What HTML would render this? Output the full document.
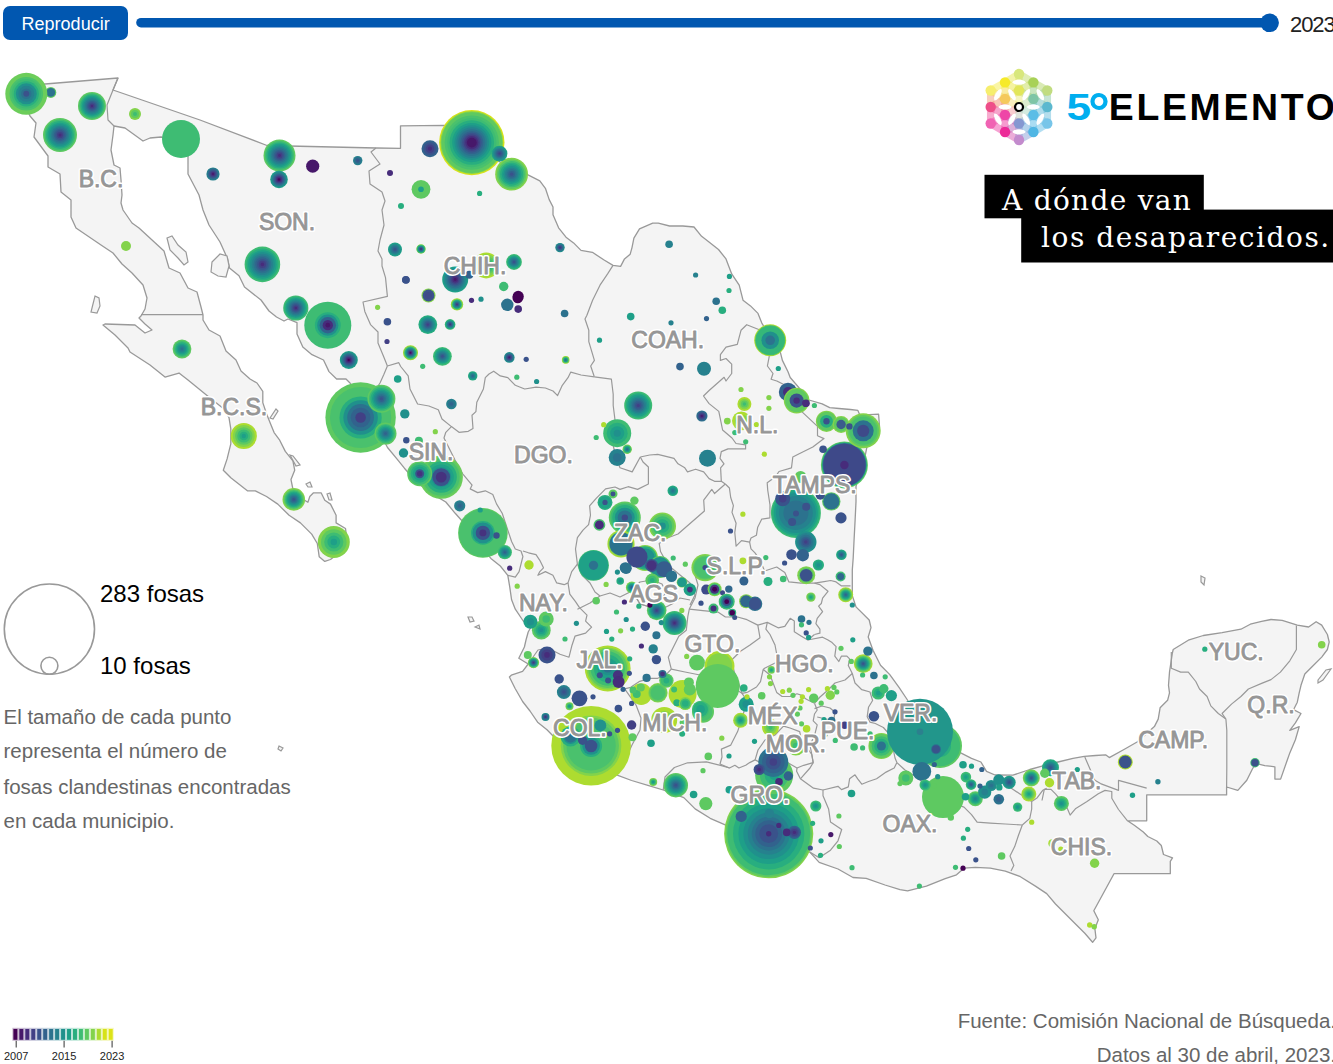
<!DOCTYPE html>
<html><head><meta charset="utf-8"><style>
html,body{margin:0;padding:0;background:#fff;}
body{width:1333px;height:1064px;position:relative;overflow:hidden;font-family:"Liberation Sans",Arial,sans-serif;}
svg{position:absolute;left:0;top:0;}
.lb{font-family:"Liberation Sans",sans-serif;font-size:23px;fill:#fff;text-anchor:middle;stroke:#fff;stroke-width:4px;stroke-linejoin:round;}
.lf{font-family:"Liberation Sans",sans-serif;font-size:23px;fill:#969696;text-anchor:middle;stroke:#969696;stroke-width:0.9px;stroke-linejoin:round;}
</style></head><body>
<svg width="1333" height="1064" viewBox="0 0 1333 1064">
<line x1="141" y1="22.7" x2="1269" y2="22.7" stroke="#0157b0" stroke-width="9.6" stroke-linecap="round"/>
<circle cx="1269.6" cy="22.8" r="9.3" fill="#0157b0"/>
<polygon points="25.0,86.0 45.0,84.0 118.0,78.0 113.0,90.0 200.0,120.0 267.0,145.5 376.0,148.0 400.5,148.3 400.5,125.8 444.0,125.4 460.0,128.0 472.0,140.0 490.0,156.0 505.0,165.0 516.0,170.0 528.5,175.2 539.8,180.8 545.4,188.3 549.2,199.6 553.0,207.0 553.0,214.7 558.6,227.8 566.0,237.2 573.6,242.9 581.0,250.4 592.4,252.3 603.7,259.8 613.0,265.4 620.6,266.4 624.5,258.9 630.2,254.2 632.0,247.6 633.9,238.2 639.5,228.8 652.7,223.2 658.3,223.2 669.6,226.0 682.8,226.0 694.0,227.0 701.6,236.3 709.0,242.0 718.5,249.5 726.0,258.9 731.7,273.9 739.2,285.2 743.0,300.2 750.5,305.9 758.0,313.4 761.7,322.8 766.0,330.0 775.0,345.0 780.5,352.9 782.4,360.4 788.0,371.7 790.2,377.5 801.5,390.7 805.3,396.3 809.0,400.0 822.2,403.8 829.7,407.6 839.0,408.5 850.4,409.5 857.9,410.4 859.8,415.1 878.6,414.2 879.5,426.4 875.0,436.0 870.0,440.0 867.3,445.2 865.4,454.6 860.0,470.0 856.0,486.5 856.0,501.6 855.1,520.4 854.1,539.2 853.2,558.0 852.3,570.0 852.3,595.6 856.0,606.9 869.2,620.0 871.0,627.6 868.2,637.0 873.0,650.2 880.5,665.2 889.8,674.6 899.2,687.7 906.8,699.0 915.0,712.0 930.0,725.0 945.0,740.0 960.2,752.6 971.5,758.3 980.9,762.0 986.5,771.4 995.0,775.0 1012.9,775.2 1029.8,769.5 1042.9,765.8 1058.0,762.0 1073.0,758.3 1084.3,756.4 1095.6,755.5 1105.6,754.8 1109.3,757.6 1124.4,749.2 1137.5,741.7 1154.4,726.6 1158.2,719.1 1160.1,707.8 1167.6,700.3 1169.5,692.8 1168.5,685.3 1169.5,672.1 1172.3,653.3 1173.2,649.5 1188.3,640.2 1203.3,635.5 1222.1,632.6 1240.9,629.2 1250.3,624.2 1261.6,621.4 1271.0,619.5 1282.2,620.4 1297.3,625.1 1308.6,627.0 1316.1,621.7 1321.7,625.1 1327.4,634.5 1329.2,642.0 1327.4,649.5 1321.7,657.1 1312.3,666.5 1304.8,674.0 1301.0,685.3 1299.2,692.8 1297.3,702.2 1293.5,709.7 1301.0,713.5 1295.4,722.9 1289.8,730.4 1299.2,726.6 1295.4,739.8 1289.8,752.9 1287.3,760.0 1280.6,779.1 1274.9,779.1 1274.9,766.8 1264.8,765.6 1255.8,763.4 1252.4,769.0 1246.8,780.3 1237.8,790.4 1226.6,787.0 1226.6,794.9 1146.7,794.9 1146.7,820.8 1127.5,820.8 1134.3,825.3 1143.3,832.0 1147.8,836.5 1156.8,841.0 1161.3,845.5 1163.5,854.5 1172.5,857.9 1170.3,861.3 1170.3,873.7 1114.0,873.7 1093.8,910.8 1098.3,919.8 1094.9,928.8 1096.0,937.8 1092.6,942.3 1084.8,933.3 1073.5,922.0 1055.5,904.0 1046.7,893.6 1035.4,886.1 1020.4,876.7 1005.3,871.1 990.3,868.2 975.3,867.3 964.0,868.2 956.5,874.8 945.2,878.6 926.4,886.1 907.6,890.8 900.0,889.7 885.0,885.0 866.2,878.4 853.0,877.5 838.0,869.0 819.2,862.4 809.8,852.1 768.0,840.0 725.2,824.8 710.2,818.3 695.1,808.9 683.8,797.6 663.2,790.0 650.4,786.1 631.6,780.5 616.5,774.8 590.0,768.0 570.0,755.0 555.0,738.0 547.0,729.7 537.6,722.2 530.0,711.0 522.6,701.5 515.0,688.3 509.4,677.0 511.3,675.2 522.6,671.4 528.2,664.0 518.8,658.3 524.4,647.0 526.0,640.0 528.2,632.0 530.4,628.0 522.9,620.5 515.3,609.2 511.6,599.8 509.7,586.6 507.8,575.3 500.3,566.0 490.9,558.4 475.0,540.0 463.0,522.0 455.2,513.3 445.8,502.0 436.4,496.4 417.6,483.2 404.4,468.2 396.9,458.8 387.5,447.5 382.0,437.0 376.0,425.0 368.0,410.0 358.0,395.0 350.0,383.0 346.0,379.0 336.6,379.0 329.0,371.6 323.5,360.0 312.0,354.7 302.8,347.0 297.0,334.0 297.0,322.7 288.0,319.0 284.0,321.0 276.5,317.0 269.0,311.0 261.0,300.0 244.5,287.0 239.0,275.7 229.5,268.0 227.6,258.8 220.0,242.0 209.0,225.0 203.0,210.0 199.0,195.0 188.0,174.0 188.0,156.0 175.0,140.0 161.0,137.0 150.0,138.0 143.0,141.0 125.0,128.0 114.0,126.0 113.0,135.0 111.0,150.0 114.0,165.0 120.0,168.0 121.0,180.0 122.0,195.0 121.0,203.0 123.0,210.0 132.0,223.0 139.0,228.0 164.0,251.0 169.0,268.0 180.0,273.0 188.0,288.0 197.0,292.0 201.0,307.0 203.0,315.0 203.0,320.0 209.0,330.0 220.0,336.0 226.0,351.0 236.0,360.0 241.0,371.0 250.0,379.0 257.0,383.0 262.8,391.3 262.8,402.6 266.5,413.8 270.3,423.2 274.1,432.6 279.7,440.2 285.3,451.4 292.9,460.8 294.7,470.2 291.0,479.6 292.9,489.0 298.5,496.5 307.9,502.2 309.8,496.5 313.5,492.8 321.1,492.8 324.8,500.3 330.5,504.1 336.1,515.3 336.1,522.9 345.5,528.5 347.0,540.0 340.0,552.0 330.5,559.5 324.8,561.4 319.2,556.7 317.3,543.5 311.7,534.1 300.4,522.9 289.1,515.3 277.8,504.1 266.5,496.5 255.3,490.9 247.7,490.9 230.8,477.7 223.3,470.2 227.1,458.9 230.8,443.9 230.8,428.9 229.0,417.6 225.2,410.0 206.4,395.0 188.0,380.0 179.0,373.0 165.0,377.0 150.0,365.0 130.0,352.0 128.0,348.0 115.0,335.0 103.0,325.0 105.0,324.0 135.0,325.0 145.0,333.0 152.0,330.0 145.0,324.0 139.0,318.0 141.0,316.0 145.0,309.0 147.0,298.0 143.0,285.0 132.0,273.0 122.0,264.0 113.0,253.0 101.0,245.0 76.0,228.0 71.0,217.0 71.0,200.0 61.0,192.0 60.0,174.0 48.0,167.0 48.0,156.0 34.0,137.0 36.0,123.0 30.0,116.0 22.0,100.0" fill="#f4f4f4" stroke="#999" stroke-width="1.3" stroke-linejoin="round"/>
<polygon points="167.0,238.0 172.0,236.0 178.0,245.0 186.0,252.0 188.0,262.0 184.0,265.0 178.0,258.0 170.0,250.0" fill="#f4f4f4" stroke="#999" stroke-width="1.2"/>
<polygon points="212.0,262.0 220.0,254.0 227.0,256.0 229.0,266.0 226.0,277.0 218.0,276.0 211.0,272.0" fill="#f4f4f4" stroke="#999" stroke-width="1.2"/>
<polygon points="95.0,296.0 99.0,298.0 100.0,306.0 97.0,313.0 91.0,312.0 93.0,304.0" fill="#f4f4f4" stroke="#999" stroke-width="1.2"/>
<polygon points="270.0,418.0 276.0,409.0 278.0,411.0 273.0,419.0" fill="#f4f4f4" stroke="#999" stroke-width="1.2"/>
<polygon points="290.0,455.0 293.0,456.0 300.0,465.0 296.0,466.0" fill="#f4f4f4" stroke="#999" stroke-width="1.2"/>
<polygon points="306.0,484.0 310.0,482.0 312.0,487.0 308.0,487.0" fill="#f4f4f4" stroke="#999" stroke-width="1.2"/>
<polygon points="327.0,494.0 330.0,493.0 332.0,500.0 329.0,500.0" fill="#f4f4f4" stroke="#999" stroke-width="1.2"/>
<polygon points="468.0,617.0 472.0,617.0 474.0,621.0 470.0,622.0" fill="#f4f4f4" stroke="#999" stroke-width="1.2"/>
<polygon points="475.0,627.0 479.0,625.0 480.0,629.0" fill="#f4f4f4" stroke="#999" stroke-width="1.2"/>
<polygon points="1318.0,680.0 1326.0,670.0 1331.0,669.0 1323.0,680.0 1318.0,683.0" fill="#f4f4f4" stroke="#999" stroke-width="1.2"/>
<polygon points="1201.0,576.0 1205.0,578.0 1204.0,585.0 1201.0,582.0" fill="#f4f4f4" stroke="#999" stroke-width="1.2"/>
<polygon points="279.0,746.0 283.0,748.0 281.0,751.0 278.0,749.0" fill="#f4f4f4" stroke="#999" stroke-width="1.2"/>
<polyline points="118.0,78.0 113.0,90.0 107.0,105.0 108.0,120.0 114.0,126.0" fill="none" stroke="#999" stroke-width="1.2" stroke-linejoin="round"/>
<polyline points="141.0,314.7 203.0,314.7" fill="none" stroke="#999" stroke-width="1.2" stroke-linejoin="round"/>
<polyline points="376.0,148.0 371.0,152.0 380.0,164.0 369.0,171.0 370.0,184.0 382.0,192.0 385.0,201.0 382.0,210.0 384.0,225.0 380.0,240.0 378.0,251.0 382.0,259.0 382.0,266.0 385.5,277.6 387.4,296.4 363.0,302.0 364.8,311.4 370.5,324.6 378.0,332.0 378.0,343.0 383.6,356.5 387.4,366.0" fill="none" stroke="#999" stroke-width="1.2" stroke-linejoin="round"/>
<polyline points="387.4,366.0 383.6,375.0 380.0,383.0 372.0,395.0 365.0,405.0" fill="none" stroke="#999" stroke-width="1.2" stroke-linejoin="round"/>
<polyline points="387.4,366.0 398.8,362.7 400.7,366.5 408.2,375.9 410.0,389.0 417.6,404.0 428.9,406.0 438.3,409.7 442.0,419.0 451.4,426.6 459.0,432.3 468.3,431.3 473.0,428.5 472.0,415.3 475.9,411.6 476.8,402.2 483.4,389.0 485.3,377.7 489.0,374.0 493.7,371.2 500.3,375.9 507.8,377.7 515.3,385.3 524.7,389.0 536.0,387.1 545.4,388.0 553.0,391.0 557.6,395.6 562.3,385.3 568.0,377.7 570.8,372.1 581.0,375.0 594.3,376.8" fill="none" stroke="#999" stroke-width="1.2" stroke-linejoin="round"/>
<polyline points="613.0,265.4 607.6,273.9 600.0,285.2 592.6,300.2 586.9,315.3 585.0,319.0 588.8,330.3 588.8,341.6 594.4,360.4 590.7,366.0 594.3,376.8" fill="none" stroke="#999" stroke-width="1.2" stroke-linejoin="round"/>
<polyline points="594.3,376.8 611.4,379.2 613.2,394.2 613.2,405.5 615.0,420.0 612.0,440.0 616.0,458.0 620.0,467.8 632.2,471.9 640.3,457.0" fill="none" stroke="#999" stroke-width="1.2" stroke-linejoin="round"/>
<polyline points="451.4,426.6 445.8,432.3 444.0,438.0 455.0,460.0 462.7,473.8 472.1,485.1 470.2,488.9 477.7,492.6 485.3,490.8 492.8,494.5 496.5,503.9 502.2,513.3 507.8,530.2 511.6,541.5 515.3,549.0 521.0,551.0 522.9,556.5 519.1,571.6 515.3,577.2 507.8,575.3" fill="none" stroke="#999" stroke-width="1.2" stroke-linejoin="round"/>
<polyline points="522.9,551.0 528.5,552.8 536.0,554.7 539.8,560.3 543.5,567.8 539.8,571.6 537.9,575.3 545.4,571.6 552.9,575.3 556.7,582.9 564.2,584.7 568.0,582.9 571.7,571.6 577.4,564.1" fill="none" stroke="#999" stroke-width="1.2" stroke-linejoin="round"/>
<polyline points="577.4,564.1 575.5,549.0 577.4,537.7 583.0,530.2 588.6,524.6 590.5,515.2 589.6,505.8 596.2,498.3 605.6,488.9 615.0,487.0 620.0,489.4 628.1,486.7 637.6,489.4 648.4,484.0 648.4,467.0 643.0,462.0 640.3,457.0" fill="none" stroke="#999" stroke-width="1.2" stroke-linejoin="round"/>
<polyline points="640.3,457.0 649.7,455.0 657.8,454.3 674.0,458.4 678.0,463.8 684.8,467.8 687.5,471.9 695.6,469.2 703.7,471.9 709.1,478.6 714.5,481.3 721.3,481.3 725.3,484.0" fill="none" stroke="#999" stroke-width="1.2" stroke-linejoin="round"/>
<polyline points="760.0,330.0 746.7,324.7 741.0,330.3 737.3,344.4 726.0,347.2 720.4,354.7 720.4,360.4 726.0,358.5 731.7,364.1 731.7,373.5 726.0,381.0 724.1,377.3 709.1,390.5 703.5,396.0 709.1,403.6 718.8,411.4 722.6,430.0 732.0,438.0 736.0,443.5 745.6,444.9 745.6,448.9 728.0,448.9 721.3,451.6 720.0,458.4 724.0,463.8 720.6,467.8 721.3,481.3" fill="none" stroke="#999" stroke-width="1.2" stroke-linejoin="round"/>
<polyline points="768.0,345.0 769.2,356.6 767.4,366.0 773.0,373.5 771.1,379.2 776.8,381.0 784.3,384.8 801.5,411.4 817.5,426.4 817.5,435.8 824.0,438.6 812.8,447.0 798.2,454.3 792.8,457.0 791.5,467.8 779.0,471.5 775.2,477.1 767.2,482.7 767.7,490.0 770.0,505.0 769.9,517.8 761.8,519.1 757.7,527.2 756.4,535.3 751.0,538.0 749.6,542.1" fill="none" stroke="#999" stroke-width="1.2" stroke-linejoin="round"/>
<polyline points="725.3,484.0 729.4,488.0 730.7,497.5 733.4,505.6 732.0,512.4 736.1,523.2 734.8,532.6 736.1,546.1 741.5,540.7 749.6,542.1 751.0,548.8 755.0,552.9" fill="none" stroke="#999" stroke-width="1.2" stroke-linejoin="round"/>
<polyline points="725.3,484.0 714.5,493.5 711.8,489.4 703.7,500.2 704.4,511.0 678.0,534.0 667.3,538.0 659.2,543.4 660.5,551.5 668.0,565.0 680.0,575.0 690.0,583.0 695.0,595.0 690.0,605.0" fill="none" stroke="#999" stroke-width="1.2" stroke-linejoin="round"/>
<polyline points="755.0,552.9 760.0,560.0 764.6,571.0 776.7,567.0 784.8,572.4 788.9,581.9 801.0,583.2 814.5,583.2 822.6,581.9 830.7,580.5 836.1,581.9 841.5,585.9 850.5,585.9" fill="none" stroke="#999" stroke-width="1.2" stroke-linejoin="round"/>
<polyline points="814.5,583.2 819.9,584.6 828.0,591.3 822.6,598.1 821.3,603.5 818.6,606.2 822.6,611.6 817.2,618.3 815.9,623.7 819.9,629.1 819.9,633.2 814.5,634.5" fill="none" stroke="#999" stroke-width="1.2" stroke-linejoin="round"/>
<polyline points="689.3,609.1 702.9,610.6 717.9,612.1 725.4,617.0 737.6,617.0 747.0,619.7 757.8,625.1 767.3,622.4 778.1,627.8 784.8,626.4 790.2,618.3 794.3,621.0 794.3,631.8 801.0,635.9 807.8,640.0 814.5,634.5" fill="none" stroke="#999" stroke-width="1.2" stroke-linejoin="round"/>
<polyline points="807.8,640.0 822.6,637.2 828.0,640.0 832.1,642.6 836.1,646.7 834.8,656.1 838.8,661.5 841.5,656.1 846.9,656.1 849.6,658.8 848.3,665.6 852.3,673.5 855.0,683.0 861.8,689.7 870.0,692.0 872.6,700.5 868.5,707.3 867.2,716.7 869.9,722.1 875.3,723.5 883.4,727.5 890.0,735.0 893.0,748.0 895.0,758.0 896.9,762.6" fill="none" stroke="#999" stroke-width="1.2" stroke-linejoin="round"/>
<polyline points="757.8,625.1 760.0,637.7 750.0,645.0 740.5,651.2 731.4,660.2 734.4,672.3 739.0,684.3 742.0,693.3 747.0,692.4" fill="none" stroke="#999" stroke-width="1.2" stroke-linejoin="round"/>
<polyline points="767.3,622.4 765.9,629.1 770.0,634.5 775.0,645.0 778.1,661.5 764.6,668.3 763.2,669.5" fill="none" stroke="#999" stroke-width="1.2" stroke-linejoin="round"/>
<polyline points="747.0,692.4 756.5,687.0 760.5,681.6 763.2,669.5 770.0,675.0 776.7,692.4 782.1,696.5 790.2,696.5 797.0,693.8 801.0,695.1 806.4,699.2 814.5,703.2" fill="none" stroke="#999" stroke-width="1.2" stroke-linejoin="round"/>
<polyline points="852.3,673.5 845.0,680.0 835.0,683.0 828.0,690.0 820.0,697.0 814.5,703.2" fill="none" stroke="#999" stroke-width="1.2" stroke-linejoin="round"/>
<polyline points="814.5,703.2 817.2,710.0 814.5,714.0 813.2,720.8 817.2,724.8 814.5,735.6 810.0,745.0 811.8,754.5 813.2,762.6" fill="none" stroke="#999" stroke-width="1.2" stroke-linejoin="round"/>
<polyline points="814.5,708.6 822.0,706.0 830.0,708.0 834.8,712.0 834.0,719.4 826.0,719.0 817.2,717.0" fill="none" stroke="#999" stroke-width="1.2" stroke-linejoin="round"/>
<polyline points="755.1,759.9 758.0,750.0 765.0,740.0 775.0,735.0 783.5,726.2 790.0,728.0 799.7,731.6 801.0,738.3 805.0,745.0 811.8,754.5 813.2,762.6 803.7,765.3 797.0,768.0 787.5,762.6 775.0,768.0 765.0,765.0 755.1,759.9" fill="none" stroke="#999" stroke-width="1.2" stroke-linejoin="round"/>
<polyline points="742.0,693.3 747.0,700.5 743.0,715.0 737.6,731.6 730.8,745.1 721.4,749.1 722.0,757.0 720.0,764.0 729.5,768.0 734.9,765.3 738.9,768.0 745.7,765.3 749.7,762.6 755.1,759.9" fill="none" stroke="#999" stroke-width="1.2" stroke-linejoin="round"/>
<polyline points="663.2,790.0 665.0,777.0 674.4,767.5 687.6,762.8 706.4,761.9 721.4,765.6 729.5,768.0" fill="none" stroke="#999" stroke-width="1.2" stroke-linejoin="round"/>
<polyline points="797.0,768.0 796.6,771.3 800.4,778.8 813.5,788.2 823.0,790.0 823.0,795.7 828.6,808.9 830.5,822.0 841.7,829.5 838.0,840.8 830.5,850.2 819.2,857.7 809.8,852.1" fill="none" stroke="#999" stroke-width="1.2" stroke-linejoin="round"/>
<polyline points="813.2,762.6 810.0,768.0 800.4,778.8" fill="none" stroke="#999" stroke-width="1.2" stroke-linejoin="round"/>
<polyline points="823.0,790.0 838.0,786.3 841.5,789.6 848.3,786.9 849.6,778.8 855.0,774.8 857.7,778.8 861.8,784.2 868.5,781.5 876.6,778.8 886.1,772.1 894.2,768.0 896.9,762.6" fill="none" stroke="#999" stroke-width="1.2" stroke-linejoin="round"/>
<polyline points="896.9,762.6 905.0,770.0 918.0,778.0 930.0,790.0 945.0,800.0 964.0,807.1 971.5,814.7 977.1,822.2 990.3,823.1 1005.3,824.0 1022.3,825.0" fill="none" stroke="#999" stroke-width="1.2" stroke-linejoin="round"/>
<polyline points="1022.3,825.0 1018.5,835.3 1014.7,846.6 1010.0,856.0 1013.8,865.4 1011.0,871.1" fill="none" stroke="#999" stroke-width="1.2" stroke-linejoin="round"/>
<polyline points="1022.3,825.0 1029.8,818.4 1031.7,809.0 1031.7,801.5 1037.3,797.7 1042.9,790.2 1046.7,788.3" fill="none" stroke="#999" stroke-width="1.2" stroke-linejoin="round"/>
<polyline points="1000.0,776.0 1008.0,786.0 1020.0,794.0 1031.7,801.5" fill="none" stroke="#999" stroke-width="1.2" stroke-linejoin="round"/>
<polyline points="1042.0,800.5 1044.3,789.3 1051.0,789.3 1055.5,793.8 1066.8,807.3 1070.1,815.1 1075.8,808.4 1087.0,801.6 1098.3,793.8 1105.0,790.4 1111.8,791.5 1111.8,798.3 1118.5,809.5 1127.5,820.8" fill="none" stroke="#999" stroke-width="1.2" stroke-linejoin="round"/>
<polyline points="1084.8,757.0 1094.9,780.3 1100.5,783.6 1118.5,790.4 1118.5,780.3 1146.7,788.1" fill="none" stroke="#999" stroke-width="1.2" stroke-linejoin="round"/>
<polyline points="1171.3,652.0 1171.3,668.3 1180.7,672.1 1188.3,672.1 1195.8,681.5 1199.5,689.0 1207.1,696.5 1210.8,705.9 1218.3,713.5 1225.9,719.1" fill="none" stroke="#999" stroke-width="1.2" stroke-linejoin="round"/>
<polyline points="1296.4,625.5 1296.4,649.5 1289.8,660.8 1280.4,672.1 1271.0,679.6 1261.6,683.4 1248.4,689.0 1240.9,696.5 1231.5,704.1 1222.1,713.5 1225.9,719.1" fill="none" stroke="#999" stroke-width="1.2" stroke-linejoin="round"/>
<polyline points="1225.9,719.1 1226.8,730.4 1226.8,749.2 1226.8,768.0 1226.6,787.0" fill="none" stroke="#999" stroke-width="1.2" stroke-linejoin="round"/>
<polyline points="616.5,774.8 625.0,760.0 632.0,745.0 640.0,730.0 641.0,718.0 636.0,705.0 624.7,688.8 630.7,687.3 639.7,681.3 650.2,678.3 657.7,678.3 665.3,675.3 671.3,669.2 668.3,657.2 674.3,645.2 678.8,636.2 686.3,630.2 687.8,616.6 689.3,609.1 695.0,598.0 698.0,585.0 695.0,575.0" fill="none" stroke="#999" stroke-width="1.2" stroke-linejoin="round"/>
<polyline points="671.3,669.2 685.0,672.0 700.0,675.0 715.0,680.0 730.0,686.0 742.0,693.3" fill="none" stroke="#999" stroke-width="1.2" stroke-linejoin="round"/>
<polyline points="568.0,582.9 569.8,594.1 575.5,601.7 579.5,607.6 587.0,615.1 585.6,621.1 591.6,627.1 585.6,633.2 575.0,636.2 572.0,645.2 569.0,657.2 560.0,654.2 548.0,648.0 538.0,650.0 528.2,664.0" fill="none" stroke="#999" stroke-width="1.2" stroke-linejoin="round"/>
<polyline points="577.4,609.2 590.0,603.0 600.0,596.0 610.0,593.0 620.0,597.0 632.0,591.0 640.0,604.0 650.0,607.0 660.0,610.0 672.0,604.0 680.0,598.0 690.0,600.0" fill="none" stroke="#999" stroke-width="1.2" stroke-linejoin="round"/>
<polyline points="632.0,590.0 640.0,582.0 652.0,580.0 662.0,584.0 666.0,592.0 660.0,602.0 650.0,607.0 640.0,604.0 632.0,590.0" fill="none" stroke="#999" stroke-width="1.2" stroke-linejoin="round"/>
<polyline points="577.4,564.1 582.0,575.0 590.0,583.0 595.0,592.0 600.0,596.0" fill="none" stroke="#999" stroke-width="1.2" stroke-linejoin="round"/>
<circle cx="795.9" cy="512.9" r="25.00" fill="#3ebc73"/><circle cx="795.9" cy="512.9" r="23.75" fill="#28ae7f"/><circle cx="795.9" cy="512.9" r="22.00" fill="#1e9f88"/><circle cx="795.9" cy="512.9" r="20.00" fill="#20908c"/><circle cx="795.9" cy="512.9" r="17.00" fill="#26818e"/><circle cx="795.9" cy="512.9" r="12.50" fill="#2c728e"/>
<circle cx="327.8" cy="325.2" r="23.50" fill="#3ebc73"/><circle cx="327.8" cy="325.2" r="12.93" fill="#28ae7f"/><circle cx="327.8" cy="325.2" r="10.58" fill="#20908c"/><circle cx="327.8" cy="325.2" r="8.22" fill="#32628d"/><circle cx="327.8" cy="325.2" r="5.17" fill="#472c7b"/><circle cx="327.8" cy="325.2" r="2.35" fill="#47186a"/>
<circle cx="844.4" cy="464.9" r="23.50" fill="#5ec961"/><circle cx="844.4" cy="464.9" r="22.56" fill="#28ae7f"/><circle cx="844.4" cy="464.9" r="21.86" fill="#2c728e"/><circle cx="844.4" cy="464.9" r="21.15" fill="#3e4989"/><circle cx="844.4" cy="464.9" r="4.23" fill="#472c7b"/>
<circle cx="50.8" cy="92.4" r="5.50" fill="#5ec961"/>
<circle cx="50.8" cy="92.4" r="4.40" fill="#2c728e"/>
<circle cx="1125.3" cy="762" r="7.50" fill="#addc30"/>
<circle cx="1125.3" cy="762" r="6.38" fill="#3b528b"/>
<circle cx="1255" cy="762.7" r="4.70" fill="#3ebc73"/>
<circle cx="1255" cy="762.7" r="3.76" fill="#3b528b"/>
<circle cx="428.5" cy="295.5" r="7.00" fill="#83d34b"/>
<circle cx="428.5" cy="295.5" r="5.95" fill="#3b528b"/>
<circle cx="428.5" cy="295.5" r="3.50" fill="#3e4a89"/>
<circle cx="421" cy="189.3" r="9.40" fill="#5ec961"/>
<circle cx="421" cy="189.3" r="2.82" fill="#1fa187"/>
<circle cx="881.4" cy="746" r="13.00" fill="#83d34b"/>
<circle cx="881.4" cy="746" r="11.96" fill="#5ec961"/>
<circle cx="881.4" cy="746" r="9.75" fill="#3ebc73"/>
<circle cx="881.4" cy="746" r="7.15" fill="#28ae7f"/>
<circle cx="881.4" cy="746" r="4.55" fill="#2c728e"/>
<circle cx="719.5" cy="666" r="15.00" fill="#addc30"/>
<circle cx="719.5" cy="666" r="12.75" fill="#83d34b"/>
<circle cx="697" cy="662.6" r="7.90" fill="#5ec961"/>
<circle cx="717.7" cy="686" r="22.00" fill="#5ec961"/>
<circle cx="641.2" cy="694.1" r="10.80" fill="#addc30"/>
<circle cx="636.7" cy="694.1" r="4.00" fill="#3ebc73"/>
<circle cx="640.8" cy="687.4" r="4.00" fill="#5ec961"/>
<circle cx="633" cy="690" r="3.50" fill="#4ac16d"/>
<circle cx="657.9" cy="692.8" r="9.70" fill="#83d34b"/>
<circle cx="657.9" cy="692.8" r="8.73" fill="#5ec961"/>
<circle cx="657.9" cy="692.8" r="7.27" fill="#4ac16d"/>
<circle cx="666.4" cy="680.6" r="7.20" fill="#5ec961"/>
<circle cx="666.4" cy="680.6" r="5.76" fill="#3ebc73"/>
<circle cx="666.4" cy="680.6" r="2.88" fill="#28ae7f"/>
<circle cx="662.5" cy="673.9" r="4.00" fill="#2c728e"/>
<circle cx="662.5" cy="673.9" r="2.40" fill="#46327e"/>
<circle cx="646.6" cy="677.9" r="4.10" fill="#2c728e"/>
<circle cx="682.6" cy="694.1" r="14.00" fill="#addc30"/>
<circle cx="688.9" cy="682.4" r="5.00" fill="#5ec961"/>
<circle cx="689.8" cy="689.6" r="6.00" fill="#5ec961"/>
<circle cx="674.1" cy="689.6" r="3.00" fill="#3ebc73"/>
<circle cx="676.8" cy="702.7" r="3.50" fill="#28ae7f"/>
<circle cx="685.3" cy="703.6" r="6.50" fill="#83d34b"/>
<circle cx="685.3" cy="703.6" r="5.20" fill="#3ebc73"/>
<circle cx="685.3" cy="703.6" r="3.25" fill="#28ae7f"/>
<circle cx="703" cy="711.7" r="11.00" fill="#5ec961"/>
<circle cx="703" cy="711.7" r="9.35" fill="#4ac16d"/>
<circle cx="700.6" cy="709.4" r="8.60" fill="#3ebc73"/>
<circle cx="700.6" cy="709.4" r="7.31" fill="#28ae7f"/>
<circle cx="700.6" cy="709.4" r="4.30" fill="#1fa187"/>
<circle cx="664.2" cy="720" r="13.00" fill="#addc30"/>
<circle cx="664.2" cy="720" r="9.10" fill="#83d34b"/>
<circle cx="682.6" cy="722.5" r="3.00" fill="#5ec961"/>
<circle cx="682.2" cy="733.7" r="3.00" fill="#28ae7f"/>
<circle cx="770.2" cy="340.3" r="16.00" fill="#addc30"/>
<circle cx="770.2" cy="340.3" r="15.04" fill="#3ebc73"/>
<circle cx="770.2" cy="340.3" r="14.08" fill="#35b779"/>
<circle cx="770.2" cy="340.3" r="8.80" fill="#20908c"/>
<circle cx="770.2" cy="340.3" r="4.80" fill="#2c728e"/>
<circle cx="788" cy="392" r="9.20" fill="#32628d"/>
<circle cx="788" cy="392" r="4.97" fill="#472c7b"/>
<circle cx="796.6" cy="400.6" r="12.80" fill="#83d34b"/>
<circle cx="796.6" cy="400.6" r="11.52" fill="#5ec961"/>
<circle cx="796.6" cy="400.6" r="7.04" fill="#3b528b"/>
<circle cx="796.6" cy="400.6" r="3.20" fill="#472c7b"/>
<circle cx="805.6" cy="403.5" r="3.40" fill="#46327e"/>
<circle cx="826.5" cy="421.3" r="10.60" fill="#83d34b"/>
<circle cx="826.5" cy="421.3" r="9.54" fill="#5ec961"/>
<circle cx="826.5" cy="421.3" r="6.36" fill="#28ae7f"/>
<circle cx="826.5" cy="421.3" r="3.18" fill="#3b528b"/>
<circle cx="841.1" cy="424.5" r="8.50" fill="#83d34b"/>
<circle cx="841.1" cy="424.5" r="7.22" fill="#5ec961"/>
<circle cx="841.1" cy="424.5" r="4.68" fill="#3b5d8c"/>
<circle cx="863.2" cy="430.8" r="17.50" fill="#83d34b"/>
<circle cx="863.2" cy="430.8" r="15.75" fill="#5ec961"/>
<circle cx="863.2" cy="430.8" r="14.00" fill="#4ac16d"/>
<circle cx="863.2" cy="430.8" r="10.50" fill="#2c728e"/>
<circle cx="863.2" cy="430.8" r="6.12" fill="#3e4a89"/>
<circle cx="613" cy="493.9" r="4.50" fill="#5ec961"/>
<circle cx="613" cy="493.9" r="2.48" fill="#3b528b"/>
<circle cx="605" cy="502.4" r="7.50" fill="#28ae7f"/>
<circle cx="605" cy="502.4" r="6.00" fill="#1fa187"/>
<circle cx="605" cy="502.4" r="2.62" fill="#3b528b"/>
<circle cx="624.8" cy="517.6" r="16.00" fill="#5ec961"/>
<circle cx="624.8" cy="517.6" r="14.40" fill="#3ebc73"/>
<circle cx="624.8" cy="517.6" r="12.48" fill="#28ae7f"/>
<circle cx="624.8" cy="517.6" r="9.92" fill="#20908c"/>
<circle cx="624.8" cy="517.6" r="7.20" fill="#2c728e"/>
<circle cx="624.8" cy="517.6" r="3.20" fill="#3e4a89"/>
<circle cx="599.4" cy="524.9" r="5.90" fill="#4ac16d"/>
<circle cx="599.4" cy="524.9" r="4.43" fill="#472c7b"/>
<circle cx="662.4" cy="526" r="13.60" fill="#83d34b"/>
<circle cx="662.4" cy="526" r="11.97" fill="#5ec961"/>
<circle cx="662.4" cy="526" r="9.79" fill="#3ebc73"/>
<circle cx="662.4" cy="526" r="6.80" fill="#28ae7f"/>
<circle cx="662.4" cy="526" r="3.40" fill="#20908c"/>
<circle cx="593.5" cy="565.3" r="15.40" fill="#3ebc73"/>
<circle cx="593.5" cy="565.3" r="14.63" fill="#1fa187"/>
<circle cx="593.5" cy="565.3" r="4.62" fill="#2c728e"/>
<circle cx="621" cy="543.9" r="13.60" fill="#addc30"/>
<circle cx="621" cy="543.9" r="12.65" fill="#83d34b"/>
<circle cx="621" cy="543.9" r="11.56" fill="#2c728e"/>
<circle cx="645" cy="558" r="13.00" fill="#83d34b"/>
<circle cx="645" cy="558" r="11.70" fill="#28ae7f"/>
<circle cx="645" cy="558" r="9.75" fill="#20908c"/>
<circle cx="660" cy="567" r="11.00" fill="#5ec961"/>
<circle cx="660" cy="567" r="9.90" fill="#20908c"/>
<circle cx="637" cy="557.1" r="10.60" fill="#3e4a89"/>
<circle cx="651.6" cy="565.5" r="6.50" fill="#3b528b"/>
<circle cx="651.6" cy="565.5" r="4.88" fill="#46327e"/>
<circle cx="664.2" cy="569.2" r="8.00" fill="#365d8d"/>
<circle cx="671.5" cy="576.5" r="5.50" fill="#2c728e"/>
<circle cx="626.2" cy="568.3" r="5.60" fill="#2c728e"/>
<circle cx="705.1" cy="567.6" r="13.70" fill="#83d34b"/>
<circle cx="705.1" cy="567.6" r="12.06" fill="#5ec961"/>
<circle cx="705.1" cy="567.6" r="10.96" fill="#4ac16d"/>
<circle cx="705.1" cy="567.6" r="2.60" fill="#3e4a89"/>
<circle cx="682" cy="582.3" r="5.30" fill="#83d34b"/>
<circle cx="682" cy="582.3" r="4.77" fill="#1f9a8a"/>
<circle cx="689.9" cy="589.6" r="6.30" fill="#1fa187"/>
<circle cx="689.9" cy="589.6" r="2.83" fill="#46327e"/>
<circle cx="706.2" cy="589.6" r="5.00" fill="#3e4a89"/>
<circle cx="714.6" cy="589.3" r="7.00" fill="#83d34b"/>
<circle cx="714.6" cy="589.3" r="5.95" fill="#3ebc73"/>
<circle cx="714.6" cy="589.3" r="4.55" fill="#46327e"/>
<circle cx="714.6" cy="589.3" r="2.45" fill="#440154"/>
<circle cx="728.8" cy="589.1" r="3.70" fill="#31688e"/>
<circle cx="722.5" cy="592.8" r="2.50" fill="#3e4a89"/>
<circle cx="726.7" cy="601.7" r="8.00" fill="#3ebc73"/>
<circle cx="726.7" cy="601.7" r="6.40" fill="#20908c"/>
<circle cx="726.7" cy="601.7" r="4.40" fill="#3b528b"/>
<circle cx="726.7" cy="601.7" r="2.40" fill="#440154"/>
<circle cx="746.1" cy="601.2" r="7.00" fill="#83d34b"/>
<circle cx="746.1" cy="601.2" r="5.95" fill="#31688e"/>
<circle cx="755" cy="603.8" r="7.30" fill="#2c728e"/>
<circle cx="755" cy="603.8" r="6.21" fill="#3b528b"/>
<circle cx="713.5" cy="608.6" r="5.00" fill="#3ebc73"/>
<circle cx="713.5" cy="608.6" r="3.00" fill="#46327e"/>
<circle cx="732.2" cy="612.8" r="4.00" fill="#28ae7f"/>
<circle cx="732.2" cy="612.8" r="2.80" fill="#440154"/>
<circle cx="734.7" cy="617.5" r="2.50" fill="#3b528b"/>
<circle cx="806.2" cy="575.2" r="9.00" fill="#83d34b"/>
<circle cx="806.2" cy="575.2" r="7.65" fill="#5ec961"/>
<circle cx="806.2" cy="575.2" r="6.30" fill="#3b528b"/>
<circle cx="840.6" cy="576.5" r="5.00" fill="#3ebc73"/>
<circle cx="840.6" cy="576.5" r="3.50" fill="#31688e"/>
<circle cx="783.2" cy="579" r="3.30" fill="#3ebc73"/>
<circle cx="806.2" cy="506.8" r="4.00" fill="#3b528b"/>
<circle cx="796" cy="513.5" r="3.00" fill="#3b528b"/>
<circle cx="792.1" cy="522.1" r="4.00" fill="#3b528b"/>
<circle cx="940" cy="746" r="22.00" fill="#5ec961"/>
<circle cx="940" cy="746" r="20.24" fill="#3ebc73"/>
<circle cx="940" cy="746" r="11.00" fill="#28ae7f"/>
<circle cx="920" cy="731.7" r="33.00" fill="#22968b"/>
<circle cx="920" cy="731.7" r="3.30" fill="#2c808e"/>
<circle cx="936" cy="749.2" r="5.00" fill="#2c728e"/>
<circle cx="936" cy="749.2" r="4.00" fill="#3a528b"/>
<circle cx="591.1" cy="745.7" r="39.80" fill="#addc30"/>
<circle cx="591.1" cy="745.7" r="30.25" fill="#83d34b"/>
<circle cx="591.1" cy="745.7" r="27.86" fill="#5ec961"/>
<circle cx="591.1" cy="745.7" r="24.68" fill="#4ac16d"/>
<circle cx="591.1" cy="746" r="11.00" fill="#28ae7f"/>
<circle cx="591.1" cy="746" r="8.80" fill="#20908c"/>
<circle cx="591.1" cy="746" r="6.27" fill="#3a528b"/>
<circle cx="570.5" cy="736.4" r="10.00" fill="#28ae7f"/>
<circle cx="570.5" cy="736.4" r="7.50" fill="#20908c"/>
<circle cx="570.5" cy="736.4" r="6.00" fill="#2c728e"/>
<circle cx="600.4" cy="725.4" r="5.90" fill="#21918c"/>
<circle cx="582.6" cy="740.2" r="4.70" fill="#3a528b"/>
<circle cx="607.7" cy="668.5" r="22.90" fill="#addc30"/>
<circle cx="607.7" cy="668.5" r="21.07" fill="#83d34b"/>
<circle cx="607.7" cy="668.5" r="19.46" fill="#5ec961"/>
<circle cx="607.7" cy="668.5" r="17.17" fill="#3ebc73"/>
<circle cx="607.7" cy="668.5" r="13.74" fill="#28ae7f"/>
<circle cx="607.7" cy="668.5" r="10.30" fill="#1e9f88"/>
<circle cx="607.7" cy="668.5" r="6.87" fill="#20908c"/>
<circle cx="607.7" cy="668.5" r="4.12" fill="#2c728e"/>
<circle cx="599.8" cy="675.3" r="3.00" fill="#3a528b"/>
<circle cx="608.1" cy="680.5" r="3.00" fill="#3a528b"/>
<circle cx="617.9" cy="675.3" r="5.00" fill="#46327e"/>
<circle cx="618.6" cy="682" r="6.00" fill="#472c7b"/>
<circle cx="471.8" cy="142.6" r="32.70" fill="#d7e219"/>
<circle cx="471.8" cy="142.6" r="31.39" fill="#83d34b"/>
<circle cx="471.8" cy="142.6" r="30.41" fill="#5ec961"/>
<circle cx="471.8" cy="142.6" r="27.14" fill="#4ac16d"/>
<circle cx="471.8" cy="142.6" r="24.53" fill="#3ebc73"/>
<circle cx="471.8" cy="142.6" r="22.24" fill="#28ae7f"/>
<circle cx="471.8" cy="142.6" r="19.62" fill="#1e9f88"/>
<circle cx="471.8" cy="142.6" r="17.33" fill="#20908c"/>
<circle cx="471.8" cy="142.6" r="15.37" fill="#26818e"/>
<circle cx="471.8" cy="142.6" r="13.41" fill="#2c728e"/>
<circle cx="471.8" cy="142.6" r="11.45" fill="#32628d"/>
<circle cx="471.8" cy="142.6" r="9.81" fill="#3a528b"/>
<circle cx="471.8" cy="142.6" r="8.18" fill="#424085"/>
<circle cx="471.8" cy="142.6" r="6.54" fill="#472c7b"/>
<circle cx="471.8" cy="142.6" r="4.91" fill="#47186a"/>
<circle cx="482.9" cy="532.9" r="24.80" fill="#5ec961"/>
<circle cx="482.9" cy="532.9" r="23.81" fill="#4ac16d"/>
<circle cx="482.9" cy="532.9" r="11.90" fill="#28ae7f"/>
<circle cx="482.9" cy="532.9" r="10.42" fill="#20908c"/>
<circle cx="482.9" cy="532.9" r="7.19" fill="#3b528b"/>
<circle cx="482.9" cy="532.9" r="3.47" fill="#46327e"/>
<circle cx="441.2" cy="477.1" r="21.70" fill="#6ccd5a"/>
<circle cx="441.2" cy="477.1" r="19.96" fill="#5ec961"/>
<circle cx="441.2" cy="477.1" r="18.45" fill="#4ac16d"/>
<circle cx="441.2" cy="477.1" r="15.62" fill="#28ae7f"/>
<circle cx="441.2" cy="477.1" r="12.59" fill="#1fa187"/>
<circle cx="441.2" cy="477.1" r="10.20" fill="#20908c"/>
<circle cx="441.2" cy="477.1" r="8.90" fill="#3b528b"/>
<circle cx="441.2" cy="477.1" r="5.42" fill="#46327e"/>
<circle cx="419.7" cy="473.7" r="12.50" fill="#5ec961"/>
<circle cx="419.7" cy="473.7" r="11.00" fill="#3ebc73"/>
<circle cx="419.7" cy="473.7" r="9.00" fill="#28ae7f"/>
<circle cx="419.7" cy="473.7" r="6.88" fill="#1fa187"/>
<circle cx="419.7" cy="473.7" r="4.50" fill="#3b528b"/>
<circle cx="419.7" cy="473.7" r="2.75" fill="#46327e"/>
<circle cx="26.3" cy="93.8" r="21.00" fill="#6ccd5a"/>
<circle cx="26.3" cy="93.8" r="16.80" fill="#4ac16d"/>
<circle cx="26.3" cy="93.8" r="14.70" fill="#3ebc73"/>
<circle cx="26.3" cy="93.8" r="12.60" fill="#28ae7f"/>
<circle cx="26.3" cy="93.8" r="10.50" fill="#20908c"/>
<circle cx="26.3" cy="93.8" r="7.98" fill="#26818e"/>
<circle cx="26.3" cy="93.8" r="5.25" fill="#2c728e"/>
<circle cx="26.3" cy="93.8" r="2.94" fill="#3b528b"/>
<circle cx="360.6" cy="417.5" r="35.20" fill="#5ec961"/>
<circle cx="360.6" cy="417.5" r="30.62" fill="#4ac16d"/>
<circle cx="360.6" cy="417.5" r="21.12" fill="#28ae7f"/>
<circle cx="360.6" cy="417.5" r="17.25" fill="#20908c"/>
<circle cx="360.6" cy="417.5" r="13.38" fill="#2c728e"/>
<circle cx="360.6" cy="417.5" r="9.86" fill="#32628d"/>
<circle cx="360.6" cy="417.5" r="5.28" fill="#424085"/>
<circle cx="768.7" cy="833.7" r="44.60" fill="#83d34b"/>
<circle cx="768.7" cy="833.7" r="43.26" fill="#5ec961"/>
<circle cx="768.7" cy="833.7" r="41.48" fill="#3ebc73"/>
<circle cx="768.7" cy="833.7" r="35.68" fill="#28ae7f"/>
<circle cx="768.7" cy="833.7" r="30.33" fill="#1e9f88"/>
<circle cx="768.7" cy="833.7" r="25.42" fill="#20908c"/>
<circle cx="768.7" cy="833.7" r="20.96" fill="#26818e"/>
<circle cx="768.7" cy="833.7" r="16.95" fill="#2c728e"/>
<circle cx="768.7" cy="833.7" r="13.38" fill="#32628d"/>
<circle cx="768.7" cy="833.7" r="9.37" fill="#3a528b"/>
<circle cx="768.7" cy="833.7" r="2.68" fill="#472c7b"/>
<circle cx="831.3" cy="501.4" r="9.20" fill="#5ec961"/>
<circle cx="831.3" cy="501.4" r="8.10" fill="#2c728e"/>
<circle cx="943" cy="797" r="21" fill="#5ec961"/>
<circle cx="181" cy="139" r="19" fill="#3ebc73"/>
<circle cx="774.2" cy="775.2" r="19.00" fill="#5ec961"/><circle cx="774.2" cy="775.2" r="14.25" fill="#3ebc73"/><circle cx="774.2" cy="775.2" r="9.50" fill="#28ae7f"/><circle cx="774.2" cy="775.2" r="4.75" fill="#1e9f88"/>
<circle cx="262.4" cy="264.4" r="17.80" fill="#3ebc73"/><circle cx="262.4" cy="264.4" r="16.02" fill="#28ae7f"/><circle cx="262.4" cy="264.4" r="14.24" fill="#1e9f88"/><circle cx="262.4" cy="264.4" r="12.46" fill="#20908c"/><circle cx="262.4" cy="264.4" r="10.68" fill="#26818e"/><circle cx="262.4" cy="264.4" r="8.90" fill="#2c728e"/><circle cx="262.4" cy="264.4" r="7.12" fill="#32628d"/><circle cx="262.4" cy="264.4" r="5.34" fill="#3a528b"/><circle cx="262.4" cy="264.4" r="3.56" fill="#424085"/><circle cx="262.4" cy="264.4" r="1.78" fill="#472c7b"/>
<circle cx="60" cy="135" r="17.00" fill="#5ec961"/><circle cx="60" cy="135" r="15.45" fill="#3ebc73"/><circle cx="60" cy="135" r="13.91" fill="#28ae7f"/><circle cx="60" cy="135" r="12.36" fill="#1e9f88"/><circle cx="60" cy="135" r="10.82" fill="#20908c"/><circle cx="60" cy="135" r="9.27" fill="#26818e"/><circle cx="60" cy="135" r="7.73" fill="#2c728e"/><circle cx="60" cy="135" r="6.18" fill="#32628d"/><circle cx="60" cy="135" r="4.64" fill="#3a528b"/><circle cx="60" cy="135" r="3.09" fill="#424085"/><circle cx="60" cy="135" r="1.55" fill="#472c7b"/>
<circle cx="511.6" cy="174.2" r="16.40" fill="#83d34b"/><circle cx="511.6" cy="174.2" r="14.76" fill="#5ec961"/><circle cx="511.6" cy="174.2" r="13.12" fill="#3ebc73"/><circle cx="511.6" cy="174.2" r="11.48" fill="#28ae7f"/><circle cx="511.6" cy="174.2" r="9.84" fill="#1e9f88"/><circle cx="511.6" cy="174.2" r="8.20" fill="#20908c"/><circle cx="511.6" cy="174.2" r="6.56" fill="#26818e"/><circle cx="511.6" cy="174.2" r="4.92" fill="#2c728e"/><circle cx="511.6" cy="174.2" r="3.28" fill="#32628d"/><circle cx="511.6" cy="174.2" r="1.64" fill="#3a528b"/>
<circle cx="279.5" cy="155.5" r="16.00" fill="#5ec961"/><circle cx="279.5" cy="155.5" r="14.55" fill="#3ebc73"/><circle cx="279.5" cy="155.5" r="13.09" fill="#28ae7f"/><circle cx="279.5" cy="155.5" r="11.64" fill="#1e9f88"/><circle cx="279.5" cy="155.5" r="10.18" fill="#20908c"/><circle cx="279.5" cy="155.5" r="8.73" fill="#26818e"/><circle cx="279.5" cy="155.5" r="7.27" fill="#2c728e"/><circle cx="279.5" cy="155.5" r="5.82" fill="#32628d"/><circle cx="279.5" cy="155.5" r="4.36" fill="#3a528b"/><circle cx="279.5" cy="155.5" r="2.91" fill="#424085"/><circle cx="279.5" cy="155.5" r="1.45" fill="#472c7b"/>
<circle cx="333.8" cy="542" r="16.00" fill="#83d34b"/><circle cx="333.8" cy="542" r="12.80" fill="#5ec961"/><circle cx="333.8" cy="542" r="9.60" fill="#3ebc73"/><circle cx="333.8" cy="542" r="6.40" fill="#28ae7f"/><circle cx="333.8" cy="542" r="3.20" fill="#1e9f88"/>
<circle cx="773.3" cy="762" r="15.00" fill="#2c728e"/><circle cx="773.3" cy="762" r="11.25" fill="#32628d"/><circle cx="773.3" cy="762" r="7.50" fill="#3a528b"/><circle cx="773.3" cy="762" r="3.75" fill="#424085"/>
<circle cx="92" cy="106" r="14.00" fill="#5ec961"/><circle cx="92" cy="106" r="12.73" fill="#3ebc73"/><circle cx="92" cy="106" r="11.45" fill="#28ae7f"/><circle cx="92" cy="106" r="10.18" fill="#1e9f88"/><circle cx="92" cy="106" r="8.91" fill="#20908c"/><circle cx="92" cy="106" r="7.64" fill="#26818e"/><circle cx="92" cy="106" r="6.36" fill="#2c728e"/><circle cx="92" cy="106" r="5.09" fill="#32628d"/><circle cx="92" cy="106" r="3.82" fill="#3a528b"/><circle cx="92" cy="106" r="2.55" fill="#424085"/><circle cx="92" cy="106" r="1.27" fill="#472c7b"/>
<circle cx="381.4" cy="398.8" r="14.00" fill="#5ec961"/><circle cx="381.4" cy="398.8" r="12.44" fill="#3ebc73"/><circle cx="381.4" cy="398.8" r="10.89" fill="#28ae7f"/><circle cx="381.4" cy="398.8" r="9.33" fill="#1e9f88"/><circle cx="381.4" cy="398.8" r="7.78" fill="#20908c"/><circle cx="381.4" cy="398.8" r="6.22" fill="#26818e"/><circle cx="381.4" cy="398.8" r="4.67" fill="#2c728e"/><circle cx="381.4" cy="398.8" r="3.11" fill="#32628d"/><circle cx="381.4" cy="398.8" r="1.56" fill="#3a528b"/>
<circle cx="617.2" cy="433.2" r="14.00" fill="#3ebc73"/><circle cx="617.2" cy="433.2" r="10.50" fill="#28ae7f"/><circle cx="617.2" cy="433.2" r="7.00" fill="#1e9f88"/><circle cx="617.2" cy="433.2" r="3.50" fill="#20908c"/>
<circle cx="638.2" cy="405.5" r="14.00" fill="#3ebc73"/><circle cx="638.2" cy="405.5" r="12.44" fill="#28ae7f"/><circle cx="638.2" cy="405.5" r="10.89" fill="#1e9f88"/><circle cx="638.2" cy="405.5" r="9.33" fill="#20908c"/><circle cx="638.2" cy="405.5" r="7.78" fill="#26818e"/><circle cx="638.2" cy="405.5" r="6.22" fill="#2c728e"/><circle cx="638.2" cy="405.5" r="4.67" fill="#32628d"/><circle cx="638.2" cy="405.5" r="3.11" fill="#3a528b"/><circle cx="638.2" cy="405.5" r="1.56" fill="#424085"/>
<circle cx="243.8" cy="436" r="13.10" fill="#addc30"/><circle cx="243.8" cy="436" r="10.92" fill="#83d34b"/><circle cx="243.8" cy="436" r="8.73" fill="#5ec961"/><circle cx="243.8" cy="436" r="6.55" fill="#3ebc73"/><circle cx="243.8" cy="436" r="4.37" fill="#28ae7f"/><circle cx="243.8" cy="436" r="2.18" fill="#1e9f88"/>
<circle cx="486.2" cy="265.4" r="13.00" fill="#addc30"/><circle cx="486.2" cy="265.4" r="11.14" fill="#83d34b"/><circle cx="486.2" cy="265.4" r="9.29" fill="#5ec961"/><circle cx="486.2" cy="265.4" r="7.43" fill="#3ebc73"/><circle cx="486.2" cy="265.4" r="5.57" fill="#28ae7f"/><circle cx="486.2" cy="265.4" r="3.71" fill="#1e9f88"/><circle cx="486.2" cy="265.4" r="1.86" fill="#20908c"/>
<circle cx="455.2" cy="279.5" r="13.00" fill="#1e9f88"/><circle cx="455.2" cy="279.5" r="11.56" fill="#20908c"/><circle cx="455.2" cy="279.5" r="10.11" fill="#26818e"/><circle cx="455.2" cy="279.5" r="8.67" fill="#2c728e"/><circle cx="455.2" cy="279.5" r="7.22" fill="#32628d"/><circle cx="455.2" cy="279.5" r="5.78" fill="#3a528b"/><circle cx="455.2" cy="279.5" r="4.33" fill="#424085"/><circle cx="455.2" cy="279.5" r="2.89" fill="#472c7b"/><circle cx="455.2" cy="279.5" r="1.44" fill="#47186a"/>
<circle cx="295.8" cy="308" r="12.60" fill="#3ebc73"/><circle cx="295.8" cy="308" r="11.34" fill="#28ae7f"/><circle cx="295.8" cy="308" r="10.08" fill="#1e9f88"/><circle cx="295.8" cy="308" r="8.82" fill="#20908c"/><circle cx="295.8" cy="308" r="7.56" fill="#26818e"/><circle cx="295.8" cy="308" r="6.30" fill="#2c728e"/><circle cx="295.8" cy="308" r="5.04" fill="#32628d"/><circle cx="295.8" cy="308" r="3.78" fill="#3a528b"/><circle cx="295.8" cy="308" r="2.52" fill="#424085"/><circle cx="295.8" cy="308" r="1.26" fill="#472c7b"/>
<circle cx="675.8" cy="785.2" r="12.20" fill="#5ec961"/><circle cx="675.8" cy="785.2" r="10.84" fill="#3ebc73"/><circle cx="675.8" cy="785.2" r="9.49" fill="#28ae7f"/><circle cx="675.8" cy="785.2" r="8.13" fill="#1e9f88"/><circle cx="675.8" cy="785.2" r="6.78" fill="#20908c"/><circle cx="675.8" cy="785.2" r="5.42" fill="#26818e"/><circle cx="675.8" cy="785.2" r="4.07" fill="#2c728e"/><circle cx="675.8" cy="785.2" r="2.71" fill="#32628d"/><circle cx="675.8" cy="785.2" r="1.36" fill="#3a528b"/>
<circle cx="674.5" cy="623" r="12.00" fill="#3ebc73"/><circle cx="674.5" cy="623" r="10.80" fill="#28ae7f"/><circle cx="674.5" cy="623" r="9.60" fill="#1e9f88"/><circle cx="674.5" cy="623" r="8.40" fill="#20908c"/><circle cx="674.5" cy="623" r="7.20" fill="#26818e"/><circle cx="674.5" cy="623" r="6.00" fill="#2c728e"/><circle cx="674.5" cy="623" r="4.80" fill="#32628d"/><circle cx="674.5" cy="623" r="3.60" fill="#3a528b"/><circle cx="674.5" cy="623" r="2.40" fill="#424085"/><circle cx="674.5" cy="623" r="1.20" fill="#472c7b"/>
<circle cx="293.8" cy="499.4" r="11.30" fill="#83d34b"/><circle cx="293.8" cy="499.4" r="10.17" fill="#5ec961"/><circle cx="293.8" cy="499.4" r="9.04" fill="#3ebc73"/><circle cx="293.8" cy="499.4" r="7.91" fill="#28ae7f"/><circle cx="293.8" cy="499.4" r="6.78" fill="#1e9f88"/><circle cx="293.8" cy="499.4" r="5.65" fill="#20908c"/><circle cx="293.8" cy="499.4" r="4.52" fill="#26818e"/><circle cx="293.8" cy="499.4" r="3.39" fill="#2c728e"/><circle cx="293.8" cy="499.4" r="2.26" fill="#32628d"/><circle cx="293.8" cy="499.4" r="1.13" fill="#3a528b"/>
<circle cx="385.5" cy="433.6" r="11.00" fill="#5ec961"/><circle cx="385.5" cy="433.6" r="9.62" fill="#3ebc73"/><circle cx="385.5" cy="433.6" r="8.25" fill="#28ae7f"/><circle cx="385.5" cy="433.6" r="6.88" fill="#1e9f88"/><circle cx="385.5" cy="433.6" r="5.50" fill="#20908c"/><circle cx="385.5" cy="433.6" r="4.12" fill="#26818e"/><circle cx="385.5" cy="433.6" r="2.75" fill="#2c728e"/><circle cx="385.5" cy="433.6" r="1.38" fill="#32628d"/>
<circle cx="805.8" cy="542" r="10.70" fill="#20908c"/><circle cx="805.8" cy="542" r="8.92" fill="#26818e"/><circle cx="805.8" cy="542" r="7.13" fill="#2c728e"/><circle cx="805.8" cy="542" r="5.35" fill="#32628d"/><circle cx="805.8" cy="542" r="3.57" fill="#3a528b"/><circle cx="805.8" cy="542" r="1.78" fill="#424085"/>
<circle cx="656.7" cy="610.4" r="9.80" fill="#5ec961"/><circle cx="656.7" cy="610.4" r="8.82" fill="#3ebc73"/><circle cx="656.7" cy="610.4" r="7.84" fill="#28ae7f"/><circle cx="656.7" cy="610.4" r="6.86" fill="#1e9f88"/><circle cx="656.7" cy="610.4" r="5.88" fill="#20908c"/><circle cx="656.7" cy="610.4" r="4.90" fill="#26818e"/><circle cx="656.7" cy="610.4" r="3.92" fill="#2c728e"/><circle cx="656.7" cy="610.4" r="2.94" fill="#32628d"/><circle cx="656.7" cy="610.4" r="1.96" fill="#3a528b"/><circle cx="656.7" cy="610.4" r="0.98" fill="#424085"/>
<circle cx="427.8" cy="324.6" r="9.40" fill="#28ae7f"/><circle cx="427.8" cy="324.6" r="8.22" fill="#1e9f88"/><circle cx="427.8" cy="324.6" r="7.05" fill="#20908c"/><circle cx="427.8" cy="324.6" r="5.88" fill="#26818e"/><circle cx="427.8" cy="324.6" r="4.70" fill="#2c728e"/><circle cx="427.8" cy="324.6" r="3.53" fill="#32628d"/><circle cx="427.8" cy="324.6" r="2.35" fill="#3a528b"/><circle cx="427.8" cy="324.6" r="1.18" fill="#424085"/>
<circle cx="182" cy="349" r="9.40" fill="#5ec961"/><circle cx="182" cy="349" r="8.06" fill="#3ebc73"/><circle cx="182" cy="349" r="6.71" fill="#28ae7f"/><circle cx="182" cy="349" r="5.37" fill="#1e9f88"/><circle cx="182" cy="349" r="4.03" fill="#20908c"/><circle cx="182" cy="349" r="2.69" fill="#26818e"/><circle cx="182" cy="349" r="1.34" fill="#2c728e"/>
<circle cx="442.4" cy="356.3" r="9.40" fill="#3ebc73"/><circle cx="442.4" cy="356.3" r="8.22" fill="#28ae7f"/><circle cx="442.4" cy="356.3" r="7.05" fill="#1e9f88"/><circle cx="442.4" cy="356.3" r="5.88" fill="#20908c"/><circle cx="442.4" cy="356.3" r="4.70" fill="#26818e"/><circle cx="442.4" cy="356.3" r="3.53" fill="#2c728e"/><circle cx="442.4" cy="356.3" r="2.35" fill="#32628d"/><circle cx="442.4" cy="356.3" r="1.18" fill="#3a528b"/>
<circle cx="741.4" cy="420.8" r="9.40" fill="#addc30"/><circle cx="741.4" cy="420.8" r="6.27" fill="#83d34b"/><circle cx="741.4" cy="420.8" r="3.13" fill="#5ec961"/>
<circle cx="541.3" cy="630.2" r="9.40" fill="#5ec961"/><circle cx="541.3" cy="630.2" r="7.52" fill="#3ebc73"/><circle cx="541.3" cy="630.2" r="5.64" fill="#28ae7f"/><circle cx="541.3" cy="630.2" r="3.76" fill="#1e9f88"/><circle cx="541.3" cy="630.2" r="1.88" fill="#20908c"/>
<circle cx="863.2" cy="663.7" r="9.40" fill="#addc30"/><circle cx="863.2" cy="663.7" r="8.55" fill="#83d34b"/><circle cx="863.2" cy="663.7" r="7.69" fill="#5ec961"/><circle cx="863.2" cy="663.7" r="6.84" fill="#3ebc73"/><circle cx="863.2" cy="663.7" r="5.98" fill="#28ae7f"/><circle cx="863.2" cy="663.7" r="5.13" fill="#1e9f88"/><circle cx="863.2" cy="663.7" r="4.27" fill="#20908c"/><circle cx="863.2" cy="663.7" r="3.42" fill="#26818e"/><circle cx="863.2" cy="663.7" r="2.56" fill="#2c728e"/><circle cx="863.2" cy="663.7" r="1.71" fill="#32628d"/><circle cx="863.2" cy="663.7" r="0.85" fill="#3a528b"/>
<circle cx="921.8" cy="771.4" r="9.4" fill="#2c728e"/>
<circle cx="795.9" cy="746" r="9.40" fill="#83d34b"/><circle cx="795.9" cy="746" r="6.27" fill="#5ec961"/><circle cx="795.9" cy="746" r="3.13" fill="#3ebc73"/>
<circle cx="348.8" cy="360" r="9.00" fill="#1e9f88"/><circle cx="348.8" cy="360" r="8.10" fill="#20908c"/><circle cx="348.8" cy="360" r="7.20" fill="#26818e"/><circle cx="348.8" cy="360" r="6.30" fill="#2c728e"/><circle cx="348.8" cy="360" r="5.40" fill="#32628d"/><circle cx="348.8" cy="360" r="4.50" fill="#3a528b"/><circle cx="348.8" cy="360" r="3.60" fill="#424085"/><circle cx="348.8" cy="360" r="2.70" fill="#472c7b"/><circle cx="348.8" cy="360" r="1.80" fill="#47186a"/><circle cx="348.8" cy="360" r="0.90" fill="#440154"/>
<circle cx="279" cy="179.4" r="8.80" fill="#1e9f88"/><circle cx="279" cy="179.4" r="7.92" fill="#20908c"/><circle cx="279" cy="179.4" r="7.04" fill="#26818e"/><circle cx="279" cy="179.4" r="6.16" fill="#2c728e"/><circle cx="279" cy="179.4" r="5.28" fill="#32628d"/><circle cx="279" cy="179.4" r="4.40" fill="#3a528b"/><circle cx="279" cy="179.4" r="3.52" fill="#424085"/><circle cx="279" cy="179.4" r="2.64" fill="#472c7b"/><circle cx="279" cy="179.4" r="1.76" fill="#47186a"/><circle cx="279" cy="179.4" r="0.88" fill="#440154"/>
<circle cx="430" cy="148.7" r="8.50" fill="#32628d"/><circle cx="430" cy="148.7" r="6.38" fill="#3a528b"/><circle cx="430" cy="148.7" r="4.25" fill="#424085"/><circle cx="430" cy="148.7" r="2.12" fill="#472c7b"/>
<circle cx="617.2" cy="457.6" r="8.50" fill="#26818e"/><circle cx="617.2" cy="457.6" r="4.25" fill="#2c728e"/>
<circle cx="707.5" cy="458.3" r="8.5" fill="#26818e"/>
<circle cx="547" cy="654.9" r="8.50" fill="#3a528b"/><circle cx="547" cy="654.9" r="5.67" fill="#424085"/><circle cx="547" cy="654.9" r="2.83" fill="#472c7b"/>
<circle cx="770.5" cy="727.6" r="8.50" fill="#addc30"/><circle cx="770.5" cy="727.6" r="6.38" fill="#83d34b"/><circle cx="770.5" cy="727.6" r="4.25" fill="#5ec961"/><circle cx="770.5" cy="727.6" r="2.12" fill="#3ebc73"/>
<circle cx="1031.3" cy="778" r="8.50" fill="#83d34b"/><circle cx="1031.3" cy="778" r="7.65" fill="#5ec961"/><circle cx="1031.3" cy="778" r="6.80" fill="#3ebc73"/><circle cx="1031.3" cy="778" r="5.95" fill="#28ae7f"/><circle cx="1031.3" cy="778" r="5.10" fill="#1e9f88"/><circle cx="1031.3" cy="778" r="4.25" fill="#20908c"/><circle cx="1031.3" cy="778" r="3.40" fill="#26818e"/><circle cx="1031.3" cy="778" r="2.55" fill="#2c728e"/><circle cx="1031.3" cy="778" r="1.70" fill="#32628d"/><circle cx="1031.3" cy="778" r="0.85" fill="#3a528b"/>
<circle cx="1050.5" cy="767.7" r="8.50" fill="#28ae7f"/><circle cx="1050.5" cy="767.7" r="7.29" fill="#1e9f88"/><circle cx="1050.5" cy="767.7" r="6.07" fill="#20908c"/><circle cx="1050.5" cy="767.7" r="4.86" fill="#26818e"/><circle cx="1050.5" cy="767.7" r="3.64" fill="#2c728e"/><circle cx="1050.5" cy="767.7" r="2.43" fill="#32628d"/><circle cx="1050.5" cy="767.7" r="1.21" fill="#3a528b"/>
<circle cx="499.5" cy="153.6" r="7.90" fill="#1e9f88"/><circle cx="499.5" cy="153.6" r="6.77" fill="#20908c"/><circle cx="499.5" cy="153.6" r="5.64" fill="#26818e"/><circle cx="499.5" cy="153.6" r="4.51" fill="#2c728e"/><circle cx="499.5" cy="153.6" r="3.39" fill="#32628d"/><circle cx="499.5" cy="153.6" r="2.26" fill="#3a528b"/><circle cx="499.5" cy="153.6" r="1.13" fill="#424085"/>
<circle cx="514" cy="262" r="7.90" fill="#3ebc73"/><circle cx="514" cy="262" r="6.91" fill="#28ae7f"/><circle cx="514" cy="262" r="5.93" fill="#1e9f88"/><circle cx="514" cy="262" r="4.94" fill="#20908c"/><circle cx="514" cy="262" r="3.95" fill="#26818e"/><circle cx="514" cy="262" r="2.96" fill="#2c728e"/><circle cx="514" cy="262" r="1.98" fill="#32628d"/><circle cx="514" cy="262" r="0.99" fill="#3a528b"/>
<circle cx="579.5" cy="698.3" r="7.9" fill="#3a528b"/>
<circle cx="410.5" cy="352.8" r="7.50" fill="#addc30"/><circle cx="410.5" cy="352.8" r="7.00" fill="#83d34b"/><circle cx="410.5" cy="352.8" r="6.50" fill="#5ec961"/><circle cx="410.5" cy="352.8" r="6.00" fill="#3ebc73"/><circle cx="410.5" cy="352.8" r="5.50" fill="#28ae7f"/><circle cx="410.5" cy="352.8" r="5.00" fill="#1e9f88"/><circle cx="410.5" cy="352.8" r="4.50" fill="#20908c"/><circle cx="410.5" cy="352.8" r="4.00" fill="#26818e"/><circle cx="410.5" cy="352.8" r="3.50" fill="#2c728e"/><circle cx="410.5" cy="352.8" r="3.00" fill="#32628d"/><circle cx="410.5" cy="352.8" r="2.50" fill="#3a528b"/><circle cx="410.5" cy="352.8" r="2.00" fill="#424085"/><circle cx="410.5" cy="352.8" r="1.50" fill="#472c7b"/><circle cx="410.5" cy="352.8" r="1.00" fill="#47186a"/><circle cx="410.5" cy="352.8" r="0.50" fill="#440154"/>
<circle cx="782.7" cy="498.8" r="7.50" fill="#3a528b"/><circle cx="782.7" cy="498.8" r="3.75" fill="#424085"/>
<circle cx="546.2" cy="619" r="7.50" fill="#5ec961"/><circle cx="546.2" cy="619" r="3.75" fill="#3ebc73"/>
<circle cx="746.2" cy="704.3" r="7.50" fill="#1e9f88"/><circle cx="746.2" cy="704.3" r="3.75" fill="#20908c"/>
<circle cx="740.6" cy="720.3" r="7.50" fill="#addc30"/><circle cx="740.6" cy="720.3" r="6.43" fill="#83d34b"/><circle cx="740.6" cy="720.3" r="5.36" fill="#5ec961"/><circle cx="740.6" cy="720.3" r="4.29" fill="#3ebc73"/><circle cx="740.6" cy="720.3" r="3.21" fill="#28ae7f"/><circle cx="740.6" cy="720.3" r="2.14" fill="#1e9f88"/><circle cx="740.6" cy="720.3" r="1.07" fill="#20908c"/>
<circle cx="845.7" cy="594.7" r="7.50" fill="#addc30"/><circle cx="845.7" cy="594.7" r="6.75" fill="#83d34b"/><circle cx="845.7" cy="594.7" r="6.00" fill="#5ec961"/><circle cx="845.7" cy="594.7" r="5.25" fill="#3ebc73"/><circle cx="845.7" cy="594.7" r="4.50" fill="#28ae7f"/><circle cx="845.7" cy="594.7" r="3.75" fill="#1e9f88"/><circle cx="845.7" cy="594.7" r="3.00" fill="#20908c"/><circle cx="845.7" cy="594.7" r="2.25" fill="#26818e"/><circle cx="845.7" cy="594.7" r="1.50" fill="#2c728e"/><circle cx="845.7" cy="594.7" r="0.75" fill="#32628d"/>
<circle cx="905.8" cy="778" r="7.50" fill="#5ec961"/><circle cx="905.8" cy="778" r="3.75" fill="#3ebc73"/>
<circle cx="975.3" cy="798.7" r="7.50" fill="#5ec961"/><circle cx="975.3" cy="798.7" r="6.25" fill="#3ebc73"/><circle cx="975.3" cy="798.7" r="5.00" fill="#28ae7f"/><circle cx="975.3" cy="798.7" r="3.75" fill="#1e9f88"/><circle cx="975.3" cy="798.7" r="2.50" fill="#20908c"/><circle cx="975.3" cy="798.7" r="1.25" fill="#26818e"/>
<circle cx="1028.8" cy="794" r="7.50" fill="#addc30"/><circle cx="1028.8" cy="794" r="6.25" fill="#83d34b"/><circle cx="1028.8" cy="794" r="5.00" fill="#5ec961"/><circle cx="1028.8" cy="794" r="3.75" fill="#3ebc73"/><circle cx="1028.8" cy="794" r="2.50" fill="#28ae7f"/><circle cx="1028.8" cy="794" r="1.25" fill="#1e9f88"/>
<circle cx="1061.4" cy="803.4" r="7.50" fill="#5ec961"/><circle cx="1061.4" cy="803.4" r="6.00" fill="#3ebc73"/><circle cx="1061.4" cy="803.4" r="4.50" fill="#28ae7f"/><circle cx="1061.4" cy="803.4" r="3.00" fill="#1e9f88"/><circle cx="1061.4" cy="803.4" r="1.50" fill="#20908c"/>
<circle cx="504.8" cy="552.2" r="7.10" fill="#3ebc73"/><circle cx="504.8" cy="552.2" r="6.09" fill="#28ae7f"/><circle cx="504.8" cy="552.2" r="5.07" fill="#1e9f88"/><circle cx="504.8" cy="552.2" r="4.06" fill="#20908c"/><circle cx="504.8" cy="552.2" r="3.04" fill="#26818e"/><circle cx="504.8" cy="552.2" r="2.03" fill="#2c728e"/><circle cx="504.8" cy="552.2" r="1.01" fill="#32628d"/>
<circle cx="395" cy="249.5" r="7.00" fill="#1e9f88"/><circle cx="395" cy="249.5" r="5.83" fill="#20908c"/><circle cx="395" cy="249.5" r="4.67" fill="#26818e"/><circle cx="395" cy="249.5" r="3.50" fill="#2c728e"/><circle cx="395" cy="249.5" r="2.33" fill="#32628d"/><circle cx="395" cy="249.5" r="1.17" fill="#3a528b"/>
<circle cx="704" cy="368.8" r="7" fill="#26818e"/>
<circle cx="744.4" cy="404" r="7.00" fill="#addc30"/><circle cx="744.4" cy="404" r="5.25" fill="#83d34b"/><circle cx="744.4" cy="404" r="3.50" fill="#5ec961"/><circle cx="744.4" cy="404" r="1.75" fill="#3ebc73"/>
<circle cx="530.4" cy="621.8" r="7.00" fill="#1e9f88"/><circle cx="530.4" cy="621.8" r="3.50" fill="#20908c"/>
<circle cx="563.9" cy="692.1" r="7.00" fill="#26818e"/><circle cx="563.9" cy="692.1" r="5.25" fill="#2c728e"/><circle cx="563.9" cy="692.1" r="3.50" fill="#32628d"/><circle cx="563.9" cy="692.1" r="1.75" fill="#3a528b"/>
<circle cx="652.2" cy="580.3" r="6.80" fill="#5ec961"/><circle cx="652.2" cy="580.3" r="4.53" fill="#3ebc73"/><circle cx="652.2" cy="580.3" r="2.27" fill="#28ae7f"/>
<circle cx="213" cy="174" r="6.60" fill="#26818e"/><circle cx="213" cy="174" r="5.66" fill="#2c728e"/><circle cx="213" cy="174" r="4.71" fill="#32628d"/><circle cx="213" cy="174" r="3.77" fill="#3a528b"/><circle cx="213" cy="174" r="2.83" fill="#424085"/><circle cx="213" cy="174" r="1.89" fill="#472c7b"/><circle cx="213" cy="174" r="0.94" fill="#47186a"/>
<circle cx="312.7" cy="166.2" r="6.6" fill="#47186a"/>
<circle cx="878.2" cy="693" r="6.60" fill="#3ebc73"/><circle cx="878.2" cy="693" r="4.40" fill="#28ae7f"/><circle cx="878.2" cy="693" r="2.20" fill="#1e9f88"/>
<circle cx="705.8" cy="803.6" r="6.6" fill="#5ec961"/>
<circle cx="794.4" cy="832.4" r="6.60" fill="#32628d"/><circle cx="794.4" cy="832.4" r="4.95" fill="#3a528b"/><circle cx="794.4" cy="832.4" r="3.30" fill="#424085"/><circle cx="794.4" cy="832.4" r="1.65" fill="#472c7b"/>
<circle cx="984.7" cy="792.1" r="6.60" fill="#20908c"/><circle cx="984.7" cy="792.1" r="3.30" fill="#26818e"/>
<circle cx="1009.1" cy="782.3" r="6.60" fill="#1e9f88"/><circle cx="1009.1" cy="782.3" r="5.50" fill="#20908c"/><circle cx="1009.1" cy="782.3" r="4.40" fill="#26818e"/><circle cx="1009.1" cy="782.3" r="3.30" fill="#2c728e"/><circle cx="1009.1" cy="782.3" r="2.20" fill="#32628d"/><circle cx="1009.1" cy="782.3" r="1.10" fill="#3a528b"/>
<circle cx="457" cy="304.4" r="6.20" fill="#addc30"/><circle cx="457" cy="304.4" r="5.72" fill="#83d34b"/><circle cx="457" cy="304.4" r="5.25" fill="#5ec961"/><circle cx="457" cy="304.4" r="4.77" fill="#3ebc73"/><circle cx="457" cy="304.4" r="4.29" fill="#28ae7f"/><circle cx="457" cy="304.4" r="3.82" fill="#1e9f88"/><circle cx="457" cy="304.4" r="3.34" fill="#20908c"/><circle cx="457" cy="304.4" r="2.86" fill="#26818e"/><circle cx="457" cy="304.4" r="2.38" fill="#2c728e"/><circle cx="457" cy="304.4" r="1.91" fill="#32628d"/><circle cx="457" cy="304.4" r="1.43" fill="#3a528b"/><circle cx="457" cy="304.4" r="0.95" fill="#424085"/><circle cx="457" cy="304.4" r="0.48" fill="#472c7b"/>
<circle cx="507.3" cy="304.8" r="6.2" fill="#2c728e"/>
<circle cx="802.8" cy="555.2" r="6.2" fill="#32628d"/>
<circle cx="135" cy="114" r="6.00" fill="#83d34b"/><circle cx="135" cy="114" r="4.00" fill="#5ec961"/><circle cx="135" cy="114" r="2.00" fill="#3ebc73"/>
<circle cx="800.6" cy="477.1" r="6" fill="#5ec961"/>
<circle cx="631.9" cy="587.5" r="6.00" fill="#83d34b"/><circle cx="631.9" cy="587.5" r="5.40" fill="#5ec961"/><circle cx="631.9" cy="587.5" r="4.80" fill="#3ebc73"/><circle cx="631.9" cy="587.5" r="4.20" fill="#28ae7f"/><circle cx="631.9" cy="587.5" r="3.60" fill="#1e9f88"/><circle cx="631.9" cy="587.5" r="3.00" fill="#20908c"/><circle cx="631.9" cy="587.5" r="2.40" fill="#26818e"/><circle cx="631.9" cy="587.5" r="1.80" fill="#2c728e"/><circle cx="631.9" cy="587.5" r="1.20" fill="#32628d"/><circle cx="631.9" cy="587.5" r="0.60" fill="#3a528b"/>
<circle cx="518.2" cy="296.4" r="5.6" fill="#440154"/>
<circle cx="701.9" cy="416" r="5.60" fill="#2c728e"/><circle cx="701.9" cy="416" r="4.67" fill="#32628d"/><circle cx="701.9" cy="416" r="3.73" fill="#3a528b"/><circle cx="701.9" cy="416" r="2.80" fill="#424085"/><circle cx="701.9" cy="416" r="1.87" fill="#472c7b"/><circle cx="701.9" cy="416" r="0.93" fill="#47186a"/>
<circle cx="841" cy="517.9" r="5.6" fill="#3a528b"/>
<circle cx="818.4" cy="565" r="5.60" fill="#28ae7f"/><circle cx="818.4" cy="565" r="3.73" fill="#1e9f88"/><circle cx="818.4" cy="565" r="1.87" fill="#20908c"/>
<circle cx="625.3" cy="567.8" r="5.6" fill="#2c728e"/>
<circle cx="459.7" cy="505.8" r="5.60" fill="#26818e"/><circle cx="459.7" cy="505.8" r="3.73" fill="#2c728e"/><circle cx="459.7" cy="505.8" r="1.87" fill="#32628d"/>
<circle cx="533.5" cy="662.6" r="5.60" fill="#83d34b"/><circle cx="533.5" cy="662.6" r="5.13" fill="#5ec961"/><circle cx="533.5" cy="662.6" r="4.67" fill="#3ebc73"/><circle cx="533.5" cy="662.6" r="4.20" fill="#28ae7f"/><circle cx="533.5" cy="662.6" r="3.73" fill="#1e9f88"/><circle cx="533.5" cy="662.6" r="3.27" fill="#20908c"/><circle cx="533.5" cy="662.6" r="2.80" fill="#26818e"/><circle cx="533.5" cy="662.6" r="2.33" fill="#2c728e"/><circle cx="533.5" cy="662.6" r="1.87" fill="#32628d"/><circle cx="533.5" cy="662.6" r="1.40" fill="#3a528b"/><circle cx="533.5" cy="662.6" r="0.93" fill="#424085"/><circle cx="533.5" cy="662.6" r="0.47" fill="#472c7b"/>
<circle cx="891.4" cy="695.6" r="5.6" fill="#1e9f88"/>
<circle cx="759.2" cy="769.5" r="5.60" fill="#3a528b"/><circle cx="759.2" cy="769.5" r="3.73" fill="#424085"/><circle cx="759.2" cy="769.5" r="1.87" fill="#472c7b"/>
<circle cx="741.2" cy="816.4" r="5.6" fill="#32628d"/>
<circle cx="815.8" cy="806" r="5.60" fill="#3ebc73"/><circle cx="815.8" cy="806" r="4.20" fill="#28ae7f"/><circle cx="815.8" cy="806" r="2.80" fill="#1e9f88"/><circle cx="815.8" cy="806" r="1.40" fill="#20908c"/>
<circle cx="925.1" cy="785" r="5.60" fill="#3ebc73"/><circle cx="925.1" cy="785" r="4.20" fill="#28ae7f"/><circle cx="925.1" cy="785" r="2.80" fill="#1e9f88"/><circle cx="925.1" cy="785" r="1.40" fill="#20908c"/>
<circle cx="991.2" cy="785.5" r="5.60" fill="#20908c"/><circle cx="991.2" cy="785.5" r="3.73" fill="#26818e"/><circle cx="991.2" cy="785.5" r="1.87" fill="#2c728e"/>
<circle cx="998.8" cy="779.9" r="5.6" fill="#20908c"/>
<circle cx="517.8" cy="297.9" r="5.3" fill="#440154"/>
<circle cx="450.1" cy="324.4" r="5.30" fill="#3ebc73"/><circle cx="450.1" cy="324.4" r="4.77" fill="#28ae7f"/><circle cx="450.1" cy="324.4" r="4.24" fill="#1e9f88"/><circle cx="450.1" cy="324.4" r="3.71" fill="#20908c"/><circle cx="450.1" cy="324.4" r="3.18" fill="#26818e"/><circle cx="450.1" cy="324.4" r="2.65" fill="#2c728e"/><circle cx="450.1" cy="324.4" r="2.12" fill="#32628d"/><circle cx="450.1" cy="324.4" r="1.59" fill="#3a528b"/><circle cx="450.1" cy="324.4" r="1.06" fill="#424085"/><circle cx="450.1" cy="324.4" r="0.53" fill="#472c7b"/>
<circle cx="509.3" cy="357.4" r="5.30" fill="#20908c"/><circle cx="509.3" cy="357.4" r="4.64" fill="#26818e"/><circle cx="509.3" cy="357.4" r="3.97" fill="#2c728e"/><circle cx="509.3" cy="357.4" r="3.31" fill="#32628d"/><circle cx="509.3" cy="357.4" r="2.65" fill="#3a528b"/><circle cx="509.3" cy="357.4" r="1.99" fill="#424085"/><circle cx="509.3" cy="357.4" r="1.32" fill="#472c7b"/><circle cx="509.3" cy="357.4" r="0.66" fill="#47186a"/>
<circle cx="451.4" cy="404" r="5.30" fill="#26818e"/><circle cx="451.4" cy="404" r="3.53" fill="#2c728e"/><circle cx="451.4" cy="404" r="1.77" fill="#32628d"/>
<circle cx="791.5" cy="554.6" r="5.3" fill="#3a528b"/>
<circle cx="841.4" cy="554.8" r="5.30" fill="#28ae7f"/><circle cx="841.4" cy="554.8" r="4.54" fill="#1e9f88"/><circle cx="841.4" cy="554.8" r="3.79" fill="#20908c"/><circle cx="841.4" cy="554.8" r="3.03" fill="#26818e"/><circle cx="841.4" cy="554.8" r="2.27" fill="#2c728e"/><circle cx="841.4" cy="554.8" r="1.51" fill="#32628d"/><circle cx="841.4" cy="554.8" r="0.76" fill="#3a528b"/>
<circle cx="672.8" cy="490.8" r="5.30" fill="#28ae7f"/><circle cx="672.8" cy="490.8" r="4.24" fill="#1e9f88"/><circle cx="672.8" cy="490.8" r="3.18" fill="#20908c"/><circle cx="672.8" cy="490.8" r="2.12" fill="#26818e"/><circle cx="672.8" cy="490.8" r="1.06" fill="#2c728e"/>
<circle cx="671.7" cy="575.8" r="5.3" fill="#2c728e"/>
<circle cx="873.9" cy="716.3" r="5.3" fill="#3a528b"/>
<circle cx="965.9" cy="777.1" r="5.30" fill="#3ebc73"/><circle cx="965.9" cy="777.1" r="3.53" fill="#28ae7f"/><circle cx="965.9" cy="777.1" r="1.77" fill="#1e9f88"/>
<circle cx="971.1" cy="784.6" r="5.30" fill="#3ebc73"/><circle cx="971.1" cy="784.6" r="4.64" fill="#28ae7f"/><circle cx="971.1" cy="784.6" r="3.97" fill="#1e9f88"/><circle cx="971.1" cy="784.6" r="3.31" fill="#20908c"/><circle cx="971.1" cy="784.6" r="2.65" fill="#26818e"/><circle cx="971.1" cy="784.6" r="1.99" fill="#2c728e"/><circle cx="971.1" cy="784.6" r="1.32" fill="#32628d"/><circle cx="971.1" cy="784.6" r="0.66" fill="#3a528b"/>
<circle cx="998.8" cy="799.2" r="5.30" fill="#2c728e"/><circle cx="998.8" cy="799.2" r="2.65" fill="#32628d"/>
<circle cx="126" cy="246" r="5" fill="#83d34b"/>
<circle cx="357.7" cy="160.6" r="4.70" fill="#26818e"/><circle cx="357.7" cy="160.6" r="3.53" fill="#2c728e"/><circle cx="357.7" cy="160.6" r="2.35" fill="#32628d"/><circle cx="357.7" cy="160.6" r="1.18" fill="#3a528b"/>
<circle cx="421" cy="249" r="4.70" fill="#83d34b"/><circle cx="421" cy="249" r="4.34" fill="#5ec961"/><circle cx="421" cy="249" r="3.98" fill="#3ebc73"/><circle cx="421" cy="249" r="3.62" fill="#28ae7f"/><circle cx="421" cy="249" r="3.25" fill="#1e9f88"/><circle cx="421" cy="249" r="2.89" fill="#20908c"/><circle cx="421" cy="249" r="2.53" fill="#26818e"/><circle cx="421" cy="249" r="2.17" fill="#2c728e"/><circle cx="421" cy="249" r="1.81" fill="#32628d"/><circle cx="421" cy="249" r="1.45" fill="#3a528b"/><circle cx="421" cy="249" r="1.08" fill="#424085"/><circle cx="421" cy="249" r="0.72" fill="#472c7b"/><circle cx="421" cy="249" r="0.36" fill="#47186a"/>
<circle cx="404.8" cy="413.9" r="4.7" fill="#20908c"/>
<circle cx="560" cy="247.6" r="4.70" fill="#20908c"/><circle cx="560" cy="247.6" r="4.03" fill="#26818e"/><circle cx="560" cy="247.6" r="3.36" fill="#2c728e"/><circle cx="560" cy="247.6" r="2.69" fill="#32628d"/><circle cx="560" cy="247.6" r="2.01" fill="#3a528b"/><circle cx="560" cy="247.6" r="1.34" fill="#424085"/><circle cx="560" cy="247.6" r="0.67" fill="#472c7b"/>
<circle cx="503.7" cy="286.5" r="4.7" fill="#3ebc73"/>
<circle cx="472.7" cy="375.9" r="4.70" fill="#28ae7f"/><circle cx="472.7" cy="375.9" r="3.92" fill="#1e9f88"/><circle cx="472.7" cy="375.9" r="3.13" fill="#20908c"/><circle cx="472.7" cy="375.9" r="2.35" fill="#26818e"/><circle cx="472.7" cy="375.9" r="1.57" fill="#2c728e"/><circle cx="472.7" cy="375.9" r="0.78" fill="#32628d"/>
<circle cx="403.5" cy="453" r="4.7" fill="#20908c"/>
<circle cx="627.2" cy="449.2" r="4.70" fill="#83d34b"/><circle cx="627.2" cy="449.2" r="4.18" fill="#5ec961"/><circle cx="627.2" cy="449.2" r="3.66" fill="#3ebc73"/><circle cx="627.2" cy="449.2" r="3.13" fill="#28ae7f"/><circle cx="627.2" cy="449.2" r="2.61" fill="#1e9f88"/><circle cx="627.2" cy="449.2" r="2.09" fill="#20908c"/><circle cx="627.2" cy="449.2" r="1.57" fill="#26818e"/><circle cx="627.2" cy="449.2" r="1.04" fill="#2c728e"/><circle cx="627.2" cy="449.2" r="0.52" fill="#32628d"/>
<circle cx="820.3" cy="495" r="4.7" fill="#3a528b"/>
<circle cx="529" cy="565" r="4.7" fill="#addc30"/>
<circle cx="645.3" cy="626.3" r="4.7" fill="#3a528b"/>
<circle cx="653.2" cy="648.9" r="4.7" fill="#26818e"/>
<circle cx="656.4" cy="659.6" r="4.7" fill="#3a528b"/>
<circle cx="559.2" cy="679" r="4.7" fill="#3a528b"/>
<circle cx="631.6" cy="725" r="4.7" fill="#424085"/>
<circle cx="810.9" cy="597.1" r="4.70" fill="#83d34b"/><circle cx="810.9" cy="597.1" r="3.76" fill="#5ec961"/><circle cx="810.9" cy="597.1" r="2.82" fill="#3ebc73"/><circle cx="810.9" cy="597.1" r="1.88" fill="#28ae7f"/><circle cx="810.9" cy="597.1" r="0.94" fill="#1e9f88"/>
<circle cx="867.9" cy="651.1" r="4.7" fill="#2c728e"/>
<circle cx="883.8" cy="688.7" r="4.7" fill="#3ebc73"/>
<circle cx="813.7" cy="698.1" r="4.7" fill="#5ec961"/>
<circle cx="830.3" cy="695.3" r="4.7" fill="#83d34b"/>
<circle cx="788.3" cy="776" r="4.7" fill="#32628d"/>
<circle cx="769.4" cy="813.6" r="4.7" fill="#26818e"/>
<circle cx="1017.6" cy="807.1" r="4.70" fill="#3ebc73"/><circle cx="1017.6" cy="807.1" r="3.53" fill="#28ae7f"/><circle cx="1017.6" cy="807.1" r="2.35" fill="#1e9f88"/><circle cx="1017.6" cy="807.1" r="1.18" fill="#20908c"/>
<circle cx="1044.8" cy="773.3" r="4.7" fill="#5ec961"/>
<circle cx="1049.5" cy="782.7" r="4.7" fill="#addc30"/>
<circle cx="1094.6" cy="863.2" r="4.7" fill="#83d34b"/>
<circle cx="743.9" cy="581" r="4.5" fill="#32628d"/>
<circle cx="768" cy="581.5" r="4.5" fill="#28ae7f"/>
<circle cx="634.4" cy="500.6" r="4.2" fill="#5ec961"/>
<circle cx="469.3" cy="274.8" r="4" fill="#32628d"/>
<circle cx="418.9" cy="440.7" r="4" fill="#3ebc73"/>
<circle cx="527.8" cy="654.9" r="4" fill="#5ec961"/>
<circle cx="656.4" cy="635.3" r="4" fill="#2c728e"/>
<circle cx="569.5" cy="706.2" r="4.00" fill="#83d34b"/><circle cx="569.5" cy="706.2" r="3.33" fill="#5ec961"/><circle cx="569.5" cy="706.2" r="2.67" fill="#3ebc73"/><circle cx="569.5" cy="706.2" r="2.00" fill="#28ae7f"/><circle cx="569.5" cy="706.2" r="1.33" fill="#1e9f88"/><circle cx="569.5" cy="706.2" r="0.67" fill="#20908c"/>
<circle cx="545.5" cy="716.9" r="4.00" fill="#20908c"/><circle cx="545.5" cy="716.9" r="3.43" fill="#26818e"/><circle cx="545.5" cy="716.9" r="2.86" fill="#2c728e"/><circle cx="545.5" cy="716.9" r="2.29" fill="#32628d"/><circle cx="545.5" cy="716.9" r="1.71" fill="#3a528b"/><circle cx="545.5" cy="716.9" r="1.14" fill="#424085"/><circle cx="545.5" cy="716.9" r="0.57" fill="#472c7b"/>
<circle cx="632.5" cy="737.2" r="4" fill="#5ec961"/>
<circle cx="653.2" cy="782" r="4.00" fill="#83d34b"/><circle cx="653.2" cy="782" r="3.33" fill="#5ec961"/><circle cx="653.2" cy="782" r="2.67" fill="#3ebc73"/><circle cx="653.2" cy="782" r="2.00" fill="#28ae7f"/><circle cx="653.2" cy="782" r="1.33" fill="#1e9f88"/><circle cx="653.2" cy="782" r="0.67" fill="#20908c"/>
<circle cx="1052.3" cy="843.2" r="4" fill="#addc30"/>
<circle cx="405.8" cy="279.8" r="3.8" fill="#3a528b"/>
<circle cx="387.4" cy="321.8" r="3.8" fill="#3a528b"/>
<circle cx="397.7" cy="379" r="3.8" fill="#1e9f88"/>
<circle cx="406" cy="280" r="3.8" fill="#3a528b"/>
<circle cx="518.2" cy="309.1" r="3.8" fill="#472c7b"/>
<circle cx="564.6" cy="313.5" r="3.8" fill="#2c728e"/>
<circle cx="565.7" cy="359.9" r="3.80" fill="#addc30"/><circle cx="565.7" cy="359.9" r="3.42" fill="#83d34b"/><circle cx="565.7" cy="359.9" r="3.04" fill="#5ec961"/><circle cx="565.7" cy="359.9" r="2.66" fill="#3ebc73"/><circle cx="565.7" cy="359.9" r="2.28" fill="#28ae7f"/><circle cx="565.7" cy="359.9" r="1.90" fill="#1e9f88"/><circle cx="565.7" cy="359.9" r="1.52" fill="#20908c"/><circle cx="565.7" cy="359.9" r="1.14" fill="#26818e"/><circle cx="565.7" cy="359.9" r="0.76" fill="#2c728e"/><circle cx="565.7" cy="359.9" r="0.38" fill="#32628d"/>
<circle cx="669.1" cy="244.2" r="3.8" fill="#26818e"/>
<circle cx="716.2" cy="301.2" r="3.8" fill="#2c728e"/>
<circle cx="722.3" cy="310.2" r="3.8" fill="#28ae7f"/>
<circle cx="630.7" cy="316.6" r="3.8" fill="#1e9f88"/>
<circle cx="680" cy="366.6" r="3.8" fill="#32628d"/>
<circle cx="806" cy="403.2" r="3.8" fill="#472c7b"/>
<circle cx="823.1" cy="449.3" r="3.8" fill="#3a528b"/>
<circle cx="596.2" cy="600.7" r="3.8" fill="#5ec961"/>
<circle cx="620.2" cy="581" r="3.80" fill="#28ae7f"/><circle cx="620.2" cy="581" r="2.53" fill="#1e9f88"/><circle cx="620.2" cy="581" r="1.27" fill="#20908c"/>
<circle cx="618.4" cy="708.6" r="3.8" fill="#3a528b"/>
<circle cx="651" cy="743.2" r="3.8" fill="#1e9f88"/>
<circle cx="743.8" cy="688" r="3.8" fill="#28ae7f"/>
<circle cx="708.3" cy="756.4" r="3.8" fill="#5ec961"/>
<circle cx="693.6" cy="794.5" r="3.8" fill="#1e9f88"/>
<circle cx="729.3" cy="789.8" r="3.8" fill="#1e9f88"/>
<circle cx="801.5" cy="619.1" r="3.8" fill="#2c728e"/>
<circle cx="873.9" cy="675.5" r="3.8" fill="#2c728e"/>
<circle cx="771.4" cy="669.9" r="3.80" fill="#83d34b"/><circle cx="771.4" cy="669.9" r="3.04" fill="#5ec961"/><circle cx="771.4" cy="669.9" r="2.28" fill="#3ebc73"/><circle cx="771.4" cy="669.9" r="1.52" fill="#28ae7f"/><circle cx="771.4" cy="669.9" r="0.76" fill="#1e9f88"/>
<circle cx="761.7" cy="695.8" r="3.8" fill="#5ec961"/>
<circle cx="806.6" cy="728.7" r="3.8" fill="#addc30"/>
<circle cx="779" cy="781.7" r="3.8" fill="#472c7b"/>
<circle cx="831.6" cy="720.6" r="3.8" fill="#2c728e"/>
<circle cx="844.7" cy="725.3" r="3.8" fill="#424085"/>
<circle cx="854.1" cy="747" r="3.8" fill="#3ebc73"/>
<circle cx="786.7" cy="832.4" r="3.8" fill="#472c7b"/>
<circle cx="851.5" cy="793.5" r="3.8" fill="#1e9f88"/>
<circle cx="963" cy="764.8" r="3.8" fill="#1e9f88"/>
<circle cx="965.5" cy="796.8" r="3.8" fill="#1e9f88"/>
<circle cx="1001.6" cy="856" r="3.8" fill="#5ec961"/>
<circle cx="1321.7" cy="644.8" r="3.8" fill="#83d34b"/>
<circle cx="727.3" cy="421.1" r="3.4" fill="#83d34b"/>
<circle cx="742.9" cy="560.8" r="3.4" fill="#addc30"/>
<circle cx="406.3" cy="440.2" r="3.2" fill="#3a528b"/>
<circle cx="849.4" cy="426.4" r="3.2" fill="#3a528b"/>
<circle cx="496.5" cy="535.5" r="3.2" fill="#3a528b"/>
<circle cx="999.3" cy="787.4" r="3.2" fill="#1e9f88"/>
<circle cx="950.8" cy="817.5" r="3.2" fill="#5ec961"/>
<circle cx="390" cy="173" r="3" fill="#472c7b"/>
<circle cx="401" cy="206" r="3" fill="#28ae7f"/>
<circle cx="1157.9" cy="781.8" r="2.7" fill="#26818e"/>
<circle cx="1132.5" cy="795.3" r="2.7" fill="#1e9f88"/>
<circle cx="1089.7" cy="925" r="2.7" fill="#addc30"/>
<circle cx="1094.2" cy="926.8" r="2.7" fill="#83d34b"/>
<circle cx="377.6" cy="307.3" r="2.6" fill="#83d34b"/>
<circle cx="387" cy="341.5" r="2.6" fill="#424085"/>
<circle cx="422.7" cy="366.3" r="2.6" fill="#3ebc73"/>
<circle cx="435.3" cy="431.7" r="2.6" fill="#83d34b"/>
<circle cx="479.6" cy="193.4" r="2.6" fill="#28ae7f"/>
<circle cx="471.5" cy="300.3" r="2.6" fill="#472c7b"/>
<circle cx="481" cy="299.2" r="2.6" fill="#20908c"/>
<circle cx="599.5" cy="340.2" r="2.6" fill="#1e9f88"/>
<circle cx="526.2" cy="359.3" r="2.6" fill="#3a528b"/>
<circle cx="516.8" cy="377.2" r="2.6" fill="#3ebc73"/>
<circle cx="536.6" cy="381.5" r="2.6" fill="#20908c"/>
<circle cx="603.7" cy="424.7" r="2.6" fill="#addc30"/>
<circle cx="596.2" cy="437.5" r="2.6" fill="#3ebc73"/>
<circle cx="695.6" cy="275" r="2.6" fill="#26818e"/>
<circle cx="729.4" cy="276.4" r="2.6" fill="#1e9f88"/>
<circle cx="729" cy="290.5" r="2.6" fill="#28ae7f"/>
<circle cx="706.5" cy="318.6" r="2.6" fill="#32628d"/>
<circle cx="671" cy="322.8" r="2.6" fill="#26818e"/>
<circle cx="778.3" cy="368.5" r="2.6" fill="#1e9f88"/>
<circle cx="814.4" cy="405.5" r="2.6" fill="#3ebc73"/>
<circle cx="741" cy="389.5" r="2.6" fill="#83d34b"/>
<circle cx="768.9" cy="397.6" r="2.6" fill="#83d34b"/>
<circle cx="768.9" cy="408.3" r="2.6" fill="#83d34b"/>
<circle cx="756.4" cy="424.5" r="2.6" fill="#addc30"/>
<circle cx="734.8" cy="432.6" r="2.6" fill="#3ebc73"/>
<circle cx="745.7" cy="441.8" r="2.6" fill="#3ebc73"/>
<circle cx="764.3" cy="454.2" r="2.6" fill="#addc30"/>
<circle cx="784.6" cy="563" r="2.6" fill="#3a528b"/>
<circle cx="742.9" cy="514.2" r="2.6" fill="#addc30"/>
<circle cx="730.5" cy="531" r="2.6" fill="#3a528b"/>
<circle cx="765.8" cy="557.6" r="2.6" fill="#3ebc73"/>
<circle cx="673.2" cy="558" r="2.6" fill="#3ebc73"/>
<circle cx="685.3" cy="564.2" r="2.6" fill="#5ec961"/>
<circle cx="701" cy="603.2" r="2.6" fill="#3a528b"/>
<circle cx="638.9" cy="606.2" r="2.6" fill="#28ae7f"/>
<circle cx="649.9" cy="605.1" r="2.6" fill="#440154"/>
<circle cx="681.8" cy="610.4" r="2.6" fill="#83d34b"/>
<circle cx="576.4" cy="623.3" r="2.6" fill="#20908c"/>
<circle cx="624.4" cy="602" r="2.6" fill="#472c7b"/>
<circle cx="616.5" cy="612" r="2.6" fill="#3ebc73"/>
<circle cx="626.2" cy="619.5" r="2.6" fill="#20908c"/>
<circle cx="620.6" cy="630.8" r="2.6" fill="#83d34b"/>
<circle cx="606.5" cy="631.4" r="2.6" fill="#1e9f88"/>
<circle cx="606.1" cy="584.4" r="2.6" fill="#83d34b"/>
<circle cx="617.4" cy="572.1" r="2.6" fill="#20908c"/>
<circle cx="565" cy="639" r="2.6" fill="#3ebc73"/>
<circle cx="480.2" cy="510" r="2.6" fill="#1e9f88"/>
<circle cx="509.7" cy="568.2" r="2.6" fill="#472c7b"/>
<circle cx="517.2" cy="586.2" r="2.6" fill="#83d34b"/>
<circle cx="611.8" cy="639.1" r="2.6" fill="#28ae7f"/>
<circle cx="632.5" cy="629.1" r="2.6" fill="#28ae7f"/>
<circle cx="661.3" cy="622.6" r="2.6" fill="#20908c"/>
<circle cx="641.4" cy="646" r="2.6" fill="#472c7b"/>
<circle cx="629.7" cy="658.8" r="2.6" fill="#28ae7f"/>
<circle cx="629.3" cy="673.3" r="2.6" fill="#3a528b"/>
<circle cx="623.1" cy="689.3" r="2.6" fill="#32628d"/>
<circle cx="593" cy="696.8" r="2.6" fill="#3a528b"/>
<circle cx="631.6" cy="703.4" r="2.6" fill="#3a528b"/>
<circle cx="617.5" cy="730.3" r="2.6" fill="#3a528b"/>
<circle cx="609.6" cy="733.8" r="2.6" fill="#3a528b"/>
<circle cx="686.7" cy="656.4" r="2.6" fill="#83d34b"/>
<circle cx="721.8" cy="738.2" r="2.6" fill="#83d34b"/>
<circle cx="729" cy="756" r="2.6" fill="#1e9f88"/>
<circle cx="703" cy="770.7" r="2.6" fill="#5ec961"/>
<circle cx="852.3" cy="605" r="2.6" fill="#20908c"/>
<circle cx="809" cy="622.3" r="2.6" fill="#2c728e"/>
<circle cx="801.5" cy="624.8" r="2.6" fill="#3ebc73"/>
<circle cx="806.2" cy="632.9" r="2.6" fill="#3a528b"/>
<circle cx="808.6" cy="637.4" r="2.6" fill="#1e9f88"/>
<circle cx="852.8" cy="639.8" r="2.6" fill="#1e9f88"/>
<circle cx="841" cy="648.3" r="2.6" fill="#5ec961"/>
<circle cx="851.3" cy="661.4" r="2.6" fill="#5ec961"/>
<circle cx="862.6" cy="675" r="2.6" fill="#3ebc73"/>
<circle cx="885.2" cy="676.8" r="2.6" fill="#3ebc73"/>
<circle cx="769.5" cy="676.8" r="2.6" fill="#83d34b"/>
<circle cx="770.5" cy="683.6" r="2.6" fill="#83d34b"/>
<circle cx="747" cy="696.8" r="2.6" fill="#addc30"/>
<circle cx="782.7" cy="691.5" r="2.6" fill="#addc30"/>
<circle cx="789.3" cy="690.2" r="2.6" fill="#83d34b"/>
<circle cx="793" cy="695.3" r="2.6" fill="#5ec961"/>
<circle cx="802.4" cy="696.8" r="2.6" fill="#addc30"/>
<circle cx="808.6" cy="689.6" r="2.6" fill="#addc30"/>
<circle cx="821.2" cy="703.2" r="2.6" fill="#5ec961"/>
<circle cx="801.1" cy="701.3" r="2.6" fill="#addc30"/>
<circle cx="827.4" cy="688.7" r="2.6" fill="#addc30"/>
<circle cx="834" cy="687.4" r="2.6" fill="#5ec961"/>
<circle cx="836.8" cy="691.9" r="2.6" fill="#5ec961"/>
<circle cx="800" cy="708" r="2.6" fill="#5ec961"/>
<circle cx="797.4" cy="714.1" r="2.6" fill="#5ec961"/>
<circle cx="801.5" cy="723.8" r="2.6" fill="#5ec961"/>
<circle cx="835" cy="711.8" r="2.6" fill="#3a528b"/>
<circle cx="754.5" cy="741.3" r="2.6" fill="#1e9f88"/>
<circle cx="824" cy="719.7" r="2.6" fill="#1e9f88"/>
<circle cx="825" cy="734.7" r="2.6" fill="#1e9f88"/>
<circle cx="835.3" cy="740.4" r="2.6" fill="#3ebc73"/>
<circle cx="862.6" cy="747.9" r="2.6" fill="#3ebc73"/>
<circle cx="870.1" cy="733.8" r="2.6" fill="#3ebc73"/>
<circle cx="778.8" cy="825.4" r="2.6" fill="#472c7b"/>
<circle cx="812.6" cy="823.3" r="2.6" fill="#28ae7f"/>
<circle cx="810.3" cy="848" r="2.6" fill="#3a528b"/>
<circle cx="821" cy="840.8" r="2.6" fill="#1e9f88"/>
<circle cx="830.8" cy="834.6" r="2.6" fill="#47186a"/>
<circle cx="838.9" cy="816" r="2.6" fill="#5ec961"/>
<circle cx="839.3" cy="846.5" r="2.6" fill="#5ec961"/>
<circle cx="820.5" cy="855.3" r="2.6" fill="#28ae7f"/>
<circle cx="852" cy="867.7" r="2.6" fill="#3ebc73"/>
<circle cx="900" cy="783.6" r="2.6" fill="#5ec961"/>
<circle cx="934.3" cy="785.7" r="2.6" fill="#5ec961"/>
<circle cx="937.7" cy="776.7" r="2.6" fill="#20908c"/>
<circle cx="934.3" cy="764.5" r="2.6" fill="#32628d"/>
<circle cx="971.5" cy="766.2" r="2.6" fill="#1e9f88"/>
<circle cx="981.8" cy="769.5" r="2.6" fill="#32628d"/>
<circle cx="980" cy="786.1" r="2.6" fill="#32628d"/>
<circle cx="1077.3" cy="769.5" r="2.6" fill="#1e9f88"/>
<circle cx="1031.7" cy="822.2" r="2.6" fill="#addc30"/>
<circle cx="967.7" cy="829.3" r="2.6" fill="#28ae7f"/>
<circle cx="963.4" cy="838.2" r="2.6" fill="#28ae7f"/>
<circle cx="968.7" cy="848.5" r="2.6" fill="#3a528b"/>
<circle cx="975.8" cy="859.8" r="2.6" fill="#3a528b"/>
<circle cx="963" cy="868.2" r="2.6" fill="#440154"/>
<circle cx="955.5" cy="867.3" r="2.6" fill="#3ebc73"/>
<circle cx="919.4" cy="886.1" r="2.6" fill="#3ebc73"/>
<circle cx="1060.8" cy="849" r="2.6" fill="#addc30"/>
<circle cx="1204.8" cy="649.2" r="2.6" fill="#28ae7f"/>
<text x="101" y="187.2" class="lb">B.C.</text>
<text x="101" y="187.2" class="lf">B.C.</text>
<text x="287" y="230.2" class="lb">SON.</text>
<text x="287" y="230.2" class="lf">SON.</text>
<text x="475" y="274.2" class="lb">CHIH.</text>
<text x="475" y="274.2" class="lf">CHIH.</text>
<text x="234" y="415.2" class="lb">B.C.S.</text>
<text x="234" y="415.2" class="lf">B.C.S.</text>
<text x="431" y="460.2" class="lb">SIN.</text>
<text x="431" y="460.2" class="lf">SIN.</text>
<text x="543.5" y="463.2" class="lb">DGO.</text>
<text x="543.5" y="463.2" class="lf">DGO.</text>
<text x="667.7" y="347.9" class="lb">COAH.</text>
<text x="667.7" y="347.9" class="lf">COAH.</text>
<text x="757.3" y="432.7" class="lb">N.L.</text>
<text x="757.3" y="432.7" class="lf">N.L.</text>
<text x="814.7" y="492.9" class="lb">TAMPS.</text>
<text x="814.7" y="492.9" class="lf">TAMPS.</text>
<text x="640.2" y="541.1" class="lb">ZAC.</text>
<text x="640.2" y="541.1" class="lf">ZAC.</text>
<text x="736.4" y="574.2" class="lb">S.L.P.</text>
<text x="736.4" y="574.2" class="lf">S.L.P.</text>
<text x="653.7" y="602.0" class="lb">AGS</text>
<text x="653.7" y="602.0" class="lf">AGS</text>
<text x="543.5" y="610.8" class="lb">NAY.</text>
<text x="543.5" y="610.8" class="lf">NAY.</text>
<text x="599.6" y="668.4" class="lb">JAL.</text>
<text x="599.6" y="668.4" class="lf">JAL.</text>
<text x="712.4" y="652.4" class="lb">GTO.</text>
<text x="712.4" y="652.4" class="lf">GTO.</text>
<text x="804.3" y="672.4" class="lb">HGO.</text>
<text x="804.3" y="672.4" class="lf">HGO.</text>
<text x="579.9" y="735.6" class="lb">COL.</text>
<text x="579.9" y="735.6" class="lf">COL.</text>
<text x="674.8" y="731.3" class="lb">MICH.</text>
<text x="674.8" y="731.3" class="lf">MICH.</text>
<text x="772.6" y="723.6" class="lb">MÉX</text>
<text x="772.6" y="723.6" class="lf">MÉX</text>
<text x="847.6" y="739.2" class="lb">PUE.</text>
<text x="847.6" y="739.2" class="lf">PUE.</text>
<text x="795.9" y="752.3" class="lb">MOR.</text>
<text x="795.9" y="752.3" class="lf">MOR.</text>
<text x="910.5" y="721.3" class="lb">VER.</text>
<text x="910.5" y="721.3" class="lf">VER.</text>
<text x="760" y="803.2" class="lb">GRO.</text>
<text x="760" y="803.2" class="lf">GRO.</text>
<text x="910" y="832.2" class="lb">OAX.</text>
<text x="910" y="832.2" class="lf">OAX.</text>
<text x="1076.8" y="789.0" class="lb">TAB.</text>
<text x="1076.8" y="789.0" class="lf">TAB.</text>
<text x="1081.5" y="854.8" class="lb">CHIS.</text>
<text x="1081.5" y="854.8" class="lf">CHIS.</text>
<text x="1173.2" y="748.0" class="lb">CAMP.</text>
<text x="1173.2" y="748.0" class="lf">CAMP.</text>
<text x="1236.2" y="659.6" class="lb">YUC.</text>
<text x="1236.2" y="659.6" class="lf">YUC.</text>
<text x="1271" y="713.2" class="lb">Q.R.</text>
<text x="1271" y="713.2" class="lf">Q.R.</text>
<line x1="1005" y1="82.4" x2="1005" y2="98.9" stroke="#f5d943" stroke-opacity="0.5" stroke-width="7.5"/><line x1="1005" y1="82.4" x2="1019" y2="74" stroke="#e7e853" stroke-opacity="0.5" stroke-width="7.5"/><line x1="1005" y1="82.4" x2="1019" y2="90.5" stroke="#ece842" stroke-opacity="0.5" stroke-width="7.5"/><line x1="1005" y1="98.9" x2="1005" y2="115" stroke="#f18781" stroke-opacity="0.5" stroke-width="7.5"/><line x1="1005" y1="98.9" x2="1019" y2="90.5" stroke="#ebd75b" stroke-opacity="0.5" stroke-width="7.5"/><line x1="1005" y1="98.9" x2="1019" y2="107" stroke="#f5dc7b" stroke-opacity="0.5" stroke-width="7.5"/><line x1="1005" y1="115" x2="1005" y2="132" stroke="#ed379f" stroke-opacity="0.5" stroke-width="7.5"/><line x1="1005" y1="115" x2="1019" y2="123.5" stroke="#b96ebc" stroke-opacity="0.5" stroke-width="7.5"/><line x1="1005" y1="115" x2="1019" y2="107" stroke="#f29aa0" stroke-opacity="0.5" stroke-width="7.5"/><line x1="1005" y1="132" x2="1019" y2="123.5" stroke="#b860b4" stroke-opacity="0.5" stroke-width="7.5"/><line x1="1005" y1="132" x2="1019" y2="140" stroke="#d75ab2" stroke-opacity="0.5" stroke-width="7.5"/><line x1="1019" y1="74" x2="1019" y2="90.5" stroke="#dde66b" stroke-opacity="0.5" stroke-width="7.5"/><line x1="1019" y1="74" x2="1033.4" y2="82.4" stroke="#c0dc69" stroke-opacity="0.5" stroke-width="7.5"/><line x1="1019" y1="90.5" x2="1033.4" y2="82.4" stroke="#c5db58" stroke-opacity="0.5" stroke-width="7.5"/><line x1="1019" y1="90.5" x2="1033.4" y2="98.9" stroke="#b0d580" stroke-opacity="0.5" stroke-width="7.5"/><line x1="1019" y1="90.5" x2="1019" y2="107" stroke="#ecea7a" stroke-opacity="0.5" stroke-width="7.5"/><line x1="1019" y1="123.5" x2="1019" y2="140" stroke="#a491cf" stroke-opacity="0.5" stroke-width="7.5"/><line x1="1019" y1="123.5" x2="1033.4" y2="115" stroke="#70aadb" stroke-opacity="0.5" stroke-width="7.5"/><line x1="1019" y1="123.5" x2="1033.4" y2="132" stroke="#6aa6da" stroke-opacity="0.5" stroke-width="7.5"/><line x1="1019" y1="140" x2="1033.4" y2="132" stroke="#89a0d8" stroke-opacity="0.5" stroke-width="7.5"/><line x1="1033.4" y1="82.4" x2="1033.4" y2="98.9" stroke="#93cb7e" stroke-opacity="0.5" stroke-width="7.5"/><line x1="1033.4" y1="82.4" x2="1047.3" y2="90.5" stroke="#b4d66b" stroke-opacity="0.5" stroke-width="7.5"/><line x1="1033.4" y1="98.9" x2="1033.4" y2="115" stroke="#6dc1c6" stroke-opacity="0.5" stroke-width="7.5"/><line x1="1033.4" y1="98.9" x2="1047.3" y2="90.5" stroke="#a0d093" stroke-opacity="0.5" stroke-width="7.5"/><line x1="1033.4" y1="98.9" x2="1047.3" y2="107" stroke="#6dbeba" stroke-opacity="0.5" stroke-width="7.5"/><line x1="1033.4" y1="115" x2="1033.4" y2="132" stroke="#55b9e5" stroke-opacity="0.5" stroke-width="7.5"/><line x1="1033.4" y1="115" x2="1047.3" y2="107" stroke="#5bbada" stroke-opacity="0.5" stroke-width="7.5"/><line x1="1033.4" y1="115" x2="1047.3" y2="123.5" stroke="#69c1e7" stroke-opacity="0.5" stroke-width="7.5"/><line x1="1033.4" y1="132" x2="1047.3" y2="123.5" stroke="#63bde6" stroke-opacity="0.5" stroke-width="7.5"/><line x1="990.7" y1="90.5" x2="1005" y2="82.4" stroke="#f6ec4c" stroke-opacity="0.5" stroke-width="7.5"/><line x1="990.7" y1="90.5" x2="1005" y2="98.9" stroke="#f5db65" stroke-opacity="0.5" stroke-width="7.5"/><line x1="990.7" y1="90.5" x2="990.7" y2="107" stroke="#f29e7b" stroke-opacity="0.5" stroke-width="7.5"/><line x1="990.7" y1="107" x2="1005" y2="98.9" stroke="#f18b72" stroke-opacity="0.5" stroke-width="7.5"/><line x1="990.7" y1="107" x2="1005" y2="115" stroke="#ee4998" stroke-opacity="0.5" stroke-width="7.5"/><line x1="990.7" y1="107" x2="990.7" y2="123.5" stroke="#ef589e" stroke-opacity="0.5" stroke-width="7.5"/><line x1="990.7" y1="123.5" x2="1005" y2="115" stroke="#ef54ad" stroke-opacity="0.5" stroke-width="7.5"/><line x1="990.7" y1="123.5" x2="1005" y2="132" stroke="#ee46a5" stroke-opacity="0.5" stroke-width="7.5"/><line x1="1047.3" y1="90.5" x2="1047.3" y2="107" stroke="#8ecaa7" stroke-opacity="0.5" stroke-width="7.5"/><line x1="1047.3" y1="107" x2="1047.3" y2="123.5" stroke="#69bedc" stroke-opacity="0.5" stroke-width="7.5"/><line x1="1019" y1="107" x2="1019" y2="123.5" stroke="#bdc3b5" stroke-opacity="0.5" stroke-width="7.5"/><line x1="1019" y1="107" x2="1033.4" y2="98.9" stroke="#badaa0" stroke-opacity="0.5" stroke-width="7.5"/><line x1="1019" y1="107" x2="1033.4" y2="115" stroke="#a8d6c0" stroke-opacity="0.5" stroke-width="7.5"/><ellipse cx="1019.0" cy="82.2" rx="6.2" ry="2.4" fill="#fff" transform="rotate(180.0 1019.0 82.2)"/><ellipse cx="1005.0" cy="107.0" rx="6.2" ry="2.4" fill="#fff" transform="rotate(180.0 1005.0 107.0)"/><ellipse cx="1033.4" cy="107.0" rx="6.2" ry="2.4" fill="#fff" transform="rotate(180.0 1033.4 107.0)"/><ellipse cx="1019.0" cy="131.8" rx="6.2" ry="2.4" fill="#fff" transform="rotate(180.0 1019.0 131.8)"/><ellipse cx="997.9" cy="94.7" rx="6.2" ry="2.4" fill="#fff" transform="rotate(120.4 997.9 94.7)"/><ellipse cx="1012.0" cy="94.7" rx="6.2" ry="2.4" fill="#fff" transform="rotate(59.0 1012.0 94.7)"/><ellipse cx="1026.2" cy="94.7" rx="6.2" ry="2.4" fill="#fff" transform="rotate(120.3 1026.2 94.7)"/><ellipse cx="1040.3" cy="94.7" rx="6.2" ry="2.4" fill="#fff" transform="rotate(58.9 1040.3 94.7)"/><ellipse cx="997.9" cy="119.2" rx="6.2" ry="2.4" fill="#fff" transform="rotate(59.3 997.9 119.2)"/><ellipse cx="1012.0" cy="119.2" rx="6.2" ry="2.4" fill="#fff" transform="rotate(121.3 1012.0 119.2)"/><ellipse cx="1026.2" cy="119.2" rx="6.2" ry="2.4" fill="#fff" transform="rotate(59.4 1026.2 119.2)"/><ellipse cx="1040.3" cy="119.2" rx="6.2" ry="2.4" fill="#fff" transform="rotate(121.4 1040.3 119.2)"/><circle cx="1005" cy="82.4" r="5.2" fill="#f6ea2a"/><circle cx="1005" cy="98.9" r="5.2" fill="#f5c95c"/><circle cx="1005" cy="115" r="5.2" fill="#ee45a7"/><circle cx="1005" cy="132" r="5.2" fill="#ec2a98"/><circle cx="1019" cy="74" r="5.2" fill="#d8e77c"/><circle cx="1019" cy="90.5" r="5.2" fill="#e2e65a"/><circle cx="1019" cy="123.5" r="5.2" fill="#8597d1"/><circle cx="1019" cy="140" r="5.2" fill="#c38bcd"/><circle cx="1033.4" cy="82.4" r="5.2" fill="#a8d157"/><circle cx="1033.4" cy="98.9" r="5.2" fill="#7fc5a6"/><circle cx="1033.4" cy="115" r="5.2" fill="#5bbde6"/><circle cx="1033.4" cy="132" r="5.2" fill="#4fb6e4"/><circle cx="990.7" cy="90.5" r="5.2" fill="#f6ee6e"/><circle cx="990.7" cy="107" r="5.2" fill="#ee4e89"/><circle cx="990.7" cy="123.5" r="5.2" fill="#f063b3"/><circle cx="1047.3" cy="90.5" r="5.2" fill="#c1dc80"/><circle cx="1047.3" cy="107" r="5.2" fill="#5bb8cf"/><circle cx="1047.3" cy="123.5" r="5.2" fill="#77c5e9"/><circle cx="1019" cy="107" r="4" fill="#fff" stroke="#000" stroke-width="2.2"/>
<circle cx="49.4" cy="629.1" r="45.1" fill="none" stroke="#999" stroke-width="1.6"/>
<circle cx="49.4" cy="665.8" r="8.5" fill="none" stroke="#999" stroke-width="1.6"/>
<rect x="12.40" y="1027.8" width="5.96" height="13" fill="#440154" fill-opacity="0.3"/><rect x="13.40" y="1029" width="3.96" height="10.8" fill="#440154"/><rect x="18.36" y="1027.8" width="5.96" height="13" fill="#47186a" fill-opacity="0.3"/><rect x="19.36" y="1029" width="3.96" height="10.8" fill="#47186a"/><rect x="24.32" y="1027.8" width="5.96" height="13" fill="#472c7b" fill-opacity="0.3"/><rect x="25.32" y="1029" width="3.96" height="10.8" fill="#472c7b"/><rect x="30.28" y="1027.8" width="5.96" height="13" fill="#424085" fill-opacity="0.3"/><rect x="31.28" y="1029" width="3.96" height="10.8" fill="#424085"/><rect x="36.24" y="1027.8" width="5.96" height="13" fill="#3a528b" fill-opacity="0.3"/><rect x="37.24" y="1029" width="3.96" height="10.8" fill="#3a528b"/><rect x="42.20" y="1027.8" width="5.96" height="13" fill="#32628d" fill-opacity="0.3"/><rect x="43.20" y="1029" width="3.96" height="10.8" fill="#32628d"/><rect x="48.16" y="1027.8" width="5.96" height="13" fill="#2c728e" fill-opacity="0.3"/><rect x="49.16" y="1029" width="3.96" height="10.8" fill="#2c728e"/><rect x="54.12" y="1027.8" width="5.96" height="13" fill="#26818e" fill-opacity="0.3"/><rect x="55.12" y="1029" width="3.96" height="10.8" fill="#26818e"/><rect x="60.08" y="1027.8" width="5.96" height="13" fill="#20908c" fill-opacity="0.3"/><rect x="61.08" y="1029" width="3.96" height="10.8" fill="#20908c"/><rect x="66.04" y="1027.8" width="5.96" height="13" fill="#1e9f88" fill-opacity="0.3"/><rect x="67.04" y="1029" width="3.96" height="10.8" fill="#1e9f88"/><rect x="72.00" y="1027.8" width="5.96" height="13" fill="#28ae7f" fill-opacity="0.3"/><rect x="73.00" y="1029" width="3.96" height="10.8" fill="#28ae7f"/><rect x="77.96" y="1027.8" width="5.96" height="13" fill="#3ebc73" fill-opacity="0.3"/><rect x="78.96" y="1029" width="3.96" height="10.8" fill="#3ebc73"/><rect x="83.92" y="1027.8" width="5.96" height="13" fill="#5ec961" fill-opacity="0.3"/><rect x="84.92" y="1029" width="3.96" height="10.8" fill="#5ec961"/><rect x="89.88" y="1027.8" width="5.96" height="13" fill="#83d34b" fill-opacity="0.3"/><rect x="90.88" y="1029" width="3.96" height="10.8" fill="#83d34b"/><rect x="95.84" y="1027.8" width="5.96" height="13" fill="#addc30" fill-opacity="0.3"/><rect x="96.84" y="1029" width="3.96" height="10.8" fill="#addc30"/><rect x="101.80" y="1027.8" width="5.96" height="13" fill="#d7e219" fill-opacity="0.3"/><rect x="102.80" y="1029" width="3.96" height="10.8" fill="#d7e219"/><rect x="107.76" y="1027.8" width="5.96" height="13" fill="#dde318" fill-opacity="0.3"/><rect x="108.76" y="1029" width="3.96" height="10.8" fill="#dde318"/>
<g stroke="#444" stroke-width="1.1"><line x1="16.2" y1="1040.8" x2="16.2" y2="1047.5"/><line x1="64.1" y1="1040.8" x2="64.1" y2="1047.5"/><line x1="112.1" y1="1040.8" x2="112.1" y2="1047.5"/></g>
<g font-family="Liberation Sans, sans-serif" font-size="11" fill="#222" text-anchor="middle"><text x="16.2" y="1060">2007</text><text x="64.1" y="1060">2015</text><text x="112.1" y="1060">2023</text></g>
<rect x="984.5" y="174.8" width="219.3" height="43.5" fill="#000"/>
<rect x="1021.2" y="209.6" width="312" height="52.9" fill="#000"/>
<text x="0" y="0" transform="translate(1066.5 120.4) scale(1.18 1)" font-family="Liberation Sans, sans-serif" font-weight="bold" font-size="37.4" fill="#00aeef">5</text><text x="1088" y="132" font-family="Liberation Sans, sans-serif" font-weight="bold" font-size="55" fill="#00aeef">°</text>
<text x="1108.8" y="120.4" font-family="Liberation Sans, sans-serif" font-weight="bold" font-size="37.4" fill="#000" letter-spacing="2.7">ELEMENTO</text>
<text x="1002" y="209.5" font-family="DejaVu Serif, serif" font-size="28" fill="#fff" letter-spacing="1.3">A dónde van</text>
<text x="1041" y="247" font-family="DejaVu Serif, serif" font-size="28" fill="#fff" letter-spacing="1.55">los desaparecidos.</text>
<rect x="3" y="6" width="125" height="34" rx="7" fill="#0157b0"/>
<text x="21.6" y="30" font-family="Liberation Sans, sans-serif" font-size="18" fill="#fff">Reproducir</text>
<text x="1290" y="31.8" font-family="Liberation Sans, sans-serif" font-size="22" fill="#222" letter-spacing="-1.1">2023</text>
<text x="100" y="602.3" font-family="Liberation Sans, sans-serif" font-size="24" fill="#000">283 fosas</text>
<text x="100" y="674.2" font-family="Liberation Sans, sans-serif" font-size="24" fill="#000">10 fosas</text>
<g font-family="Liberation Sans, sans-serif" font-size="20.5" fill="#666">
<text x="3.5" y="723.6">El tamaño de cada punto</text>
<text x="3.5" y="758.3">representa el número de</text>
<text x="3.5" y="793.6">fosas clandestinas encontradas</text>
<text x="3.5" y="828">en cada municipio.</text>
<text x="1336" y="1028.3" text-anchor="end">Fuente: Comisión Nacional de Búsqueda.</text>
<text x="1336" y="1061.5" text-anchor="end">Datos al 30 de abril, 2023.</text>
</g>
</svg>
</body></html>
